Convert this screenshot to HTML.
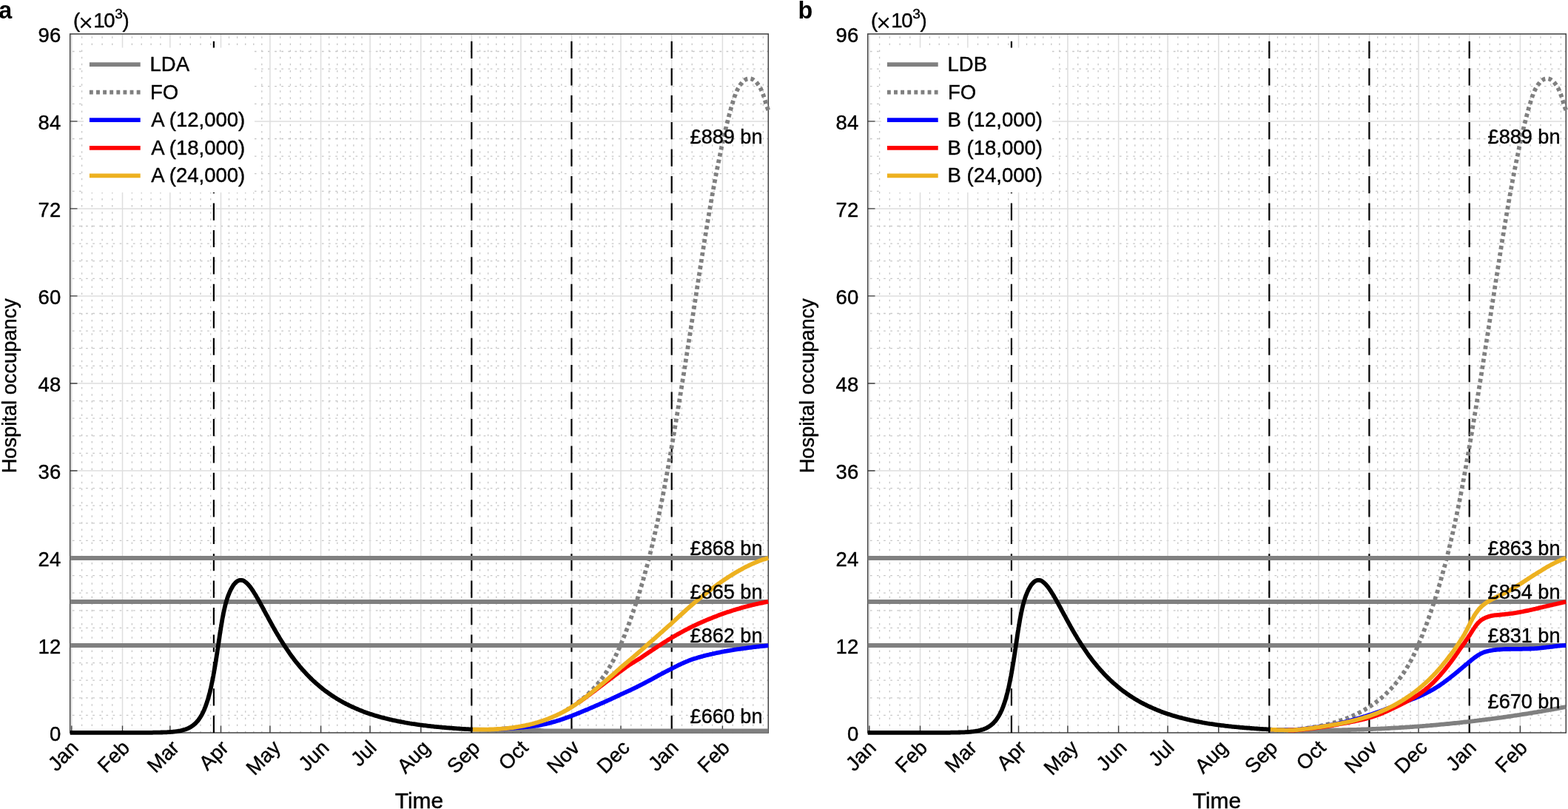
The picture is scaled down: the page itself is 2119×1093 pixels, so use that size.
<!DOCTYPE html>
<html lang="en"><head><meta charset="utf-8"><title>Hospital occupancy scenarios</title>
<style>html,body{margin:0;padding:0;background:#fff}body{width:2119px;height:1093px;overflow:hidden}svg{display:block}text{font-family:"Liberation Sans",sans-serif;font-size:27.5px;fill:#000;stroke:#000;stroke-width:0.4px;stroke-linejoin:round}.pl{stroke:none}</style></head><body>
<svg width="2119" height="1093" viewBox="0 0 2119 1093">
<rect width="2119" height="1093" fill="#fff"/>
<g transform="translate(0,0)">
<path d="M110.6,990.2 V45.9 M124.3,990.2 V45.9 M138.1,990.2 V45.9 M151.8,990.2 V45.9 M178.4,990.2 V45.9 M191.2,990.2 V45.9 M204.1,990.2 V45.9 M216.9,990.2 V45.9 M243.5,990.2 V45.9 M257.3,990.2 V45.9 M271,990.2 V45.9 M284.7,990.2 V45.9 M309.5,990.2 V45.9 M320.6,990.2 V45.9 M331.7,990.2 V45.9 M342.8,990.2 V45.9 M353.8,990.2 V45.9 M378.7,990.2 V45.9 M392.4,990.2 V45.9 M406.1,990.2 V45.9 M419.9,990.2 V45.9 M444.7,990.2 V45.9 M455.8,990.2 V45.9 M466.8,990.2 V45.9 M477.9,990.2 V45.9 M489,990.2 V45.9 M513.8,990.2 V45.9 M527.5,990.2 V45.9 M541.3,990.2 V45.9 M555,990.2 V45.9 M582.5,990.2 V45.9 M596.2,990.2 V45.9 M610,990.2 V45.9 M623.7,990.2 V45.9 M648.5,990.2 V45.9 M659.6,990.2 V45.9 M670.7,990.2 V45.9 M681.7,990.2 V45.9 M692.8,990.2 V45.9 M717.6,990.2 V45.9 M731.4,990.2 V45.9 M745.1,990.2 V45.9 M758.8,990.2 V45.9 M783.7,990.2 V45.9 M794.7,990.2 V45.9 M805.8,990.2 V45.9 M816.9,990.2 V45.9 M828,990.2 V45.9 M852.8,990.2 V45.9 M866.5,990.2 V45.9 M880.3,990.2 V45.9 M894,990.2 V45.9 M921.5,990.2 V45.9 M935.2,990.2 V45.9 M948.9,990.2 V45.9 M962.7,990.2 V45.9 M990.2,990.2 V45.9 M1003.9,990.2 V45.9 M1017.7,990.2 V45.9 M1031.4,990.2 V45.9" stroke="#c6c6c6" stroke-width="1.3" stroke-dasharray="2.5 6.61" fill="none"/>
<path d="M1038.9,966.4 H94.7 M1038.9,942.8 H94.7 M1038.9,919.2 H94.7 M1038.9,895.6 H94.7 M1038.9,848.4 H94.7 M1038.9,824.8 H94.7 M1038.9,801.2 H94.7 M1038.9,777.6 H94.7 M1038.9,730.4 H94.7 M1038.9,706.8 H94.7 M1038.9,683.2 H94.7 M1038.9,659.6 H94.7 M1038.9,612.4 H94.7 M1038.9,588.8 H94.7 M1038.9,565.2 H94.7 M1038.9,541.6 H94.7 M1038.9,494.3 H94.7 M1038.9,470.7 H94.7 M1038.9,447.1 H94.7 M1038.9,423.5 H94.7 M1038.9,376.3 H94.7 M1038.9,352.7 H94.7 M1038.9,329.1 H94.7 M1038.9,305.5 H94.7 M1038.9,258.3 H94.7 M1038.9,234.7 H94.7 M1038.9,211.1 H94.7 M1038.9,187.5 H94.7 M1038.9,140.3 H94.7 M1038.9,116.7 H94.7 M1038.9,93.1 H94.7 M1038.9,69.5 H94.7" stroke="#c6c6c6" stroke-width="1.3" stroke-dasharray="2.7 6.41" fill="none"/>
<path d="M96.8,990 V45.9 M165.5,990 V45.9 M229.8,990 V45.9 M298.5,990 V45.9 M364.9,990 V45.9 M433.6,990 V45.9 M500.1,990 V45.9 M568.8,990 V45.9 M637.4,990 V45.9 M703.9,990 V45.9 M772.6,990 V45.9 M839,990 V45.9 M907.7,990 V45.9 M976.4,990 V45.9 M94.7,872 H1038.3 M94.7,754 H1038.3 M94.7,636 H1038.3 M94.7,518 H1038.3 M94.7,399.9 H1038.3 M94.7,281.9 H1038.3 M94.7,163.9 H1038.3" stroke="#dedede" stroke-width="1.5" fill="none"/>
<rect x="94.7" y="45.9" width="943.6" height="944.1" fill="none" stroke="#404040" stroke-width="1.5"/>
<path d="M96.8,990 v-9.6 M165.5,990 v-9.6 M229.8,990 v-9.6 M298.5,990 v-9.6 M364.9,990 v-9.6 M433.6,990 v-9.6 M500.1,990 v-9.6 M568.8,990 v-9.6 M637.4,990 v-9.6 M703.9,990 v-9.6 M772.6,990 v-9.6 M839,990 v-9.6 M907.7,990 v-9.6 M976.4,990 v-9.6 M94.7,872 h9.8 M94.7,754 h9.8 M94.7,636 h9.8 M94.7,518 h9.8 M94.7,399.9 h9.8 M94.7,281.9 h9.8 M94.7,163.9 h9.8" stroke="#404040" stroke-width="1.4" fill="none"/>
<path d="M288.9,990 V46.9 M637.3,990 V46.9 M772.4,990 V46.9 M907.7,990 V46.9" stroke="#000" stroke-width="2.2" stroke-dasharray="23.2 13.24" fill="none"/>
<path d="M94.7,872 H1038.3 M94.7,813 H1038.3 M94.7,754 H1038.3" stroke="#808080" stroke-width="5.8" fill="none"/>
<path d="M638.7,985.7 660,986 690,986.2 727,986.3 731,986.9 735,987.4 1038.3,987.4" stroke="#808080" stroke-width="5.8" fill="none" stroke-linejoin="round"/>
<path d="M1038.3,148.7 1037.9,147.8 1037.5,146.9 1037.1,145.9 1036.8,145 1036.5,144 1036.1,143.1 1035.8,142.1 1035.5,141.2 1035.2,140.2 1034.9,139.3 1034.6,138.3 1034.4,137.4 1034.1,136.4 1033.8,135.5 1033.5,134.5 1033.2,133.5 1032.9,132.6 1032.6,131.6 1032.3,130.7 1032,129.7 1031.7,128.8 1031.3,127.8 1031,126.9 1030.6,126 1030.3,125 1029.9,124.1 1029.5,123.2 1029.1,122.3 1028.7,121.3 1028.3,120.4 1027.8,119.6 1027.4,118.7 1026.9,117.8 1026.4,116.9 1025.8,116.1 1025.3,115.2 1024.7,114.4 1024.2,113.6 1023.5,112.8 1022.9,112 1022.2,111.3 1021.6,110.6 1020.8,109.9 1020.1,109.2 1019.3,108.6 1018.5,108 1017.6,107.5 1016.7,107.1 1015.8,106.7 1014.8,106.4 1013.9,106.2 1012.9,106.2 1011.9,106.2 1010.9,106.4 1009.9,106.6 1008.9,106.9 1008,107.3 1007.2,107.8 1006.3,108.4 1005.5,109 1004.8,109.6 1004,110.3 1003.3,111 1002.7,111.8 1002,112.5 1001.4,113.3 1000.8,114.1 1000.2,114.9 999.7,115.8 999.1,116.6 998.6,117.5 998.1,118.3 997.6,119.2 997.1,120.1 996.7,121 996.2,121.9 995.8,122.8 995.4,123.7 995,124.6 994.6,125.5 994.2,126.4 993.9,127.4 993.5,128.3 993.2,129.2 992.8,130.2 992.5,131.1 992.2,132.1 991.9,133 991.6,134 991.3,134.9 991,135.9 990.7,136.8 990.4,137.8 990.1,138.8 989.8,139.7 989.5,140.7 989.2,141.6 989,142.6 988.7,143.6 988.4,144.5 988.1,145.5 987.9,146.4 987.6,147.4 987.3,148.4 987,149.3 986.8,150.3 986.5,151.3 986.3,152.2 986,153.2 985.7,154.2 985.5,155.1 985.2,156.1 985,157.1 984.7,158 984.5,159 984.2,160 984,160.9 983.7,161.9 983.5,162.9 983.2,163.8 983,164.8 982.7,165.8 982.5,166.7 982.2,167.7 982,168.7 981.8,169.7 981.5,170.6 981.3,171.6 981.1,172.6 980.8,173.6 980.6,174.5 980.4,175.5 980.1,176.5 979.9,177.4 979.7,178.4 979.5,179.4 979.2,180.4 979,181.3 978.8,182.3 978.6,183.3 978.3,184.3 978.1,185.2 977.9,186.2 977.7,187.2 977.5,188.2 977.3,189.2 977,190.1 976.8,191.1 976.6,192.1 976.4,193.1 976.2,194 976,195 975.8,196 975.6,197 975.3,197.9 975.1,198.9 974.9,199.9 974.7,200.9 974.5,201.9 974.3,202.8 974.1,203.8 973.9,204.8 973.7,205.8 973.5,206.8 973.3,207.7 973.1,208.7 972.9,209.7 972.7,210.7 972.5,211.7 972.3,212.6 972.1,213.6 971.9,214.6 971.7,215.6 971.5,216.6 971.3,217.5 971.1,218.5 970.9,219.5 970.7,220.5 970.5,221.5 970.3,222.4 970.1,223.4 969.9,224.4 969.7,225.4 969.5,226.4 969.3,227.3 969.1,228.3 968.9,229.3 968.7,230.3 968.6,231.3 968.4,232.3 968.2,233.2 968,234.2 967.8,235.2 967.6,236.2 967.4,237.2 967.2,238.1 967,239.1 966.9,240.1 966.7,241.1 966.5,242.1 966.3,243.1 966.1,244 965.9,245 965.7,246 965.6,247 965.4,248 965.2,249 965,249.9 964.8,250.9 964.6,251.9 964.5,252.9 964.3,253.9 964.1,254.9 963.9,255.8 963.7,256.8 963.6,257.8 963.4,258.8 963.2,259.8 963,260.8 962.9,261.7 962.7,262.7 962.5,263.7 962.3,264.7 962.2,265.7 962,266.7 961.8,267.7 961.6,268.6 961.5,269.6 961.3,270.6 961.1,271.6 960.9,272.6 960.8,273.6 960.6,274.6 960.4,275.5 960.2,276.5 960.1,277.5 959.9,278.5 959.7,279.5 959.6,280.5 959.4,281.4 959.2,282.4 959,283.4 958.9,284.4 958.7,285.4 958.5,286.4 958.4,287.4 958.2,288.4 958,289.3 957.9,290.3 957.7,291.3 957.5,292.3 957.4,293.3 957.2,294.3 957,295.3 956.9,296.2 956.7,297.2 956.5,298.2 956.4,299.2 956.2,300.2 956,301.2 955.9,302.2 955.7,303.1 955.6,304.1 955.4,305.1 955.2,306.1 955.1,307.1 954.9,308.1 954.7,309.1 954.6,310.1 954.4,311 954.2,312 954.1,313 953.9,314 953.8,315 953.6,316 953.4,317 953.3,318 953.1,318.9 953,319.9 952.8,320.9 952.6,321.9 952.5,322.9 952.3,323.9 952.2,324.9 952,325.9 951.8,326.8 951.7,327.8 951.5,328.8 951.4,329.8 951.2,330.8 951.1,331.8 950.9,332.8 950.7,333.8 950.6,334.7 950.4,335.7 950.3,336.7 950.1,337.7 950,338.7 949.8,339.7 949.6,340.7 949.5,341.7 949.3,342.6 949.2,343.6 949,344.6 948.9,345.6 948.7,346.6 948.6,347.6 948.4,348.6 948.2,349.6 948.1,350.5 947.9,351.5 947.8,352.5 947.6,353.5 947.5,354.5 947.3,355.5 947.2,356.5 947,357.5 946.9,358.5 946.7,359.4 946.5,360.4 946.4,361.4 946.2,362.4 946.1,363.4 945.9,364.4 945.8,365.4 945.6,366.4 945.5,367.3 945.3,368.3 945.2,369.3 945,370.3 944.8,371.3 944.7,372.3 944.5,373.3 944.4,374.3 944.2,375.3 944.1,376.2 943.9,377.2 943.8,378.2 943.6,379.2 943.5,380.2 943.3,381.2 943.2,382.2 943,383.2 942.9,384.2 942.7,385.1 942.5,386.1 942.4,387.1 942.2,388.1 942.1,389.1 941.9,390.1 941.8,391.1 941.6,392.1 941.5,393 941.3,394 941.2,395 941,396 940.9,397 940.7,398 940.6,399 940.4,400 940.2,401 940.1,401.9 939.9,402.9 939.8,403.9 939.6,404.9 939.5,405.9 939.3,406.9 939.2,407.9 939,408.9 938.9,409.8 938.7,410.8 938.6,411.8 938.4,412.8 938.3,413.8 938.1,414.8 937.9,415.8 937.8,416.8 937.6,417.8 937.5,418.7 937.3,419.7 937.2,420.7 937,421.7 936.9,422.7 936.7,423.7 936.6,424.7 936.4,425.7 936.3,426.7 936.1,427.6 936,428.6 935.8,429.6 935.6,430.6 935.5,431.6 935.3,432.6 935.2,433.6 935,434.6 934.9,435.5 934.7,436.5 934.6,437.5 934.4,438.5 934.3,439.5 934.1,440.5 934,441.5 933.8,442.5 933.6,443.5 933.5,444.4 933.3,445.4 933.2,446.4 933,447.4 932.9,448.4 932.7,449.4 932.6,450.4 932.4,451.4 932.3,452.3 932.1,453.3 932,454.3 931.8,455.3 931.6,456.3 931.5,457.3 931.3,458.3 931.2,459.3 931,460.3 930.9,461.2 930.7,462.2 930.6,463.2 930.4,464.2 930.3,465.2 930.1,466.2 929.9,467.2 929.8,468.2 929.6,469.1 929.5,470.1 929.3,471.1 929.2,472.1 929,473.1 928.9,474.1 928.7,475.1 928.5,476.1 928.4,477.1 928.2,478 928.1,479 927.9,480 927.8,481 927.6,482 927.5,483 927.3,484 927.1,485 927,485.9 926.8,486.9 926.7,487.9 926.5,488.9 926.4,489.9 926.2,490.9 926,491.9 925.9,492.9 925.7,493.8 925.6,494.8 925.4,495.8 925.3,496.8 925.1,497.8 925,498.8 924.8,499.8 924.6,500.8 924.5,501.8 924.3,502.7 924.2,503.7 924,504.7 923.9,505.7 923.7,506.7 923.5,507.7 923.4,508.7 923.2,509.7 923.1,510.6 922.9,511.6 922.7,512.6 922.6,513.6 922.4,514.6 922.3,515.6 922.1,516.6 922,517.6 921.8,518.5 921.6,519.5 921.5,520.5 921.3,521.5 921.2,522.5 921,523.5 920.8,524.5 920.7,525.5 920.5,526.4 920.4,527.4 920.2,528.4 920,529.4 919.9,530.4 919.7,531.4 919.6,532.4 919.4,533.4 919.2,534.3 919.1,535.3 918.9,536.3 918.8,537.3 918.6,538.3 918.4,539.3 918.3,540.3 918.1,541.3 918,542.2 917.8,543.2 917.6,544.2 917.5,545.2 917.3,546.2 917.1,547.2 917,548.2 916.8,549.1 916.7,550.1 916.5,551.1 916.3,552.1 916.2,553.1 916,554.1 915.9,555.1 915.7,556.1 915.5,557 915.4,558 915.2,559 915,560 914.9,561 914.7,562 914.5,563 914.4,564 914.2,564.9 914.1,565.9 913.9,566.9 913.7,567.9 913.6,568.9 913.4,569.9 913.2,570.9 913.1,571.8 912.9,572.8 912.7,573.8 912.6,574.8 912.4,575.8 912.2,576.8 912.1,577.8 911.9,578.7 911.7,579.7 911.6,580.7 911.4,581.7 911.2,582.7 911.1,583.7 910.9,584.7 910.8,585.7 910.6,586.6 910.4,587.6 910.2,588.6 910.1,589.6 909.9,590.6 909.7,591.6 909.6,592.6 909.4,593.5 909.2,594.5 909.1,595.5 908.9,596.5 908.7,597.5 908.6,598.5 908.4,599.5 908.2,600.4 908.1,601.4 907.9,602.4 907.7,603.4 907.6,604.4 907.4,605.4 907.2,606.4 907,607.3 906.9,608.3 906.7,609.3 906.5,610.3 906.4,611.3 906.2,612.3 906,613.3 905.9,614.2 905.7,615.2 905.5,616.2 905.3,617.2 905.2,618.2 905,619.2 904.8,620.2 904.6,621.1 904.5,622.1 904.3,623.1 904.1,624.1 904,625.1 903.8,626.1 903.6,627.1 903.4,628 903.3,629 903.1,630 902.9,631 902.7,632 902.6,633 902.4,633.9 902.2,634.9 902,635.9 901.8,636.9 901.7,637.9 901.5,638.9 901.3,639.9 901.1,640.8 901,641.8 900.8,642.8 900.6,643.8 900.4,644.8 900.2,645.8 900.1,646.7 899.9,647.7 899.7,648.7 899.5,649.7 899.3,650.7 899.2,651.7 899,652.6 898.8,653.6 898.6,654.6 898.4,655.6 898.2,656.6 898,657.6 897.9,658.5 897.7,659.5 897.5,660.5 897.3,661.5 897.1,662.5 896.9,663.5 896.7,664.4 896.6,665.4 896.4,666.4 896.2,667.4 896,668.4 895.8,669.3 895.6,670.3 895.4,671.3 895.2,672.3 895,673.3 894.8,674.3 894.7,675.2 894.5,676.2 894.3,677.2 894.1,678.2 893.9,679.2 893.7,680.1 893.5,681.1 893.3,682.1 893.1,683.1 892.9,684.1 892.7,685 892.5,686 892.3,687 892.1,688 891.9,689 891.7,689.9 891.5,690.9 891.3,691.9 891.1,692.9 890.9,693.9 890.7,694.8 890.5,695.8 890.3,696.8 890.1,697.8 889.9,698.8 889.7,699.7 889.5,700.7 889.3,701.7 889,702.7 888.8,703.7 888.6,704.6 888.4,705.6 888.2,706.6 888,707.6 887.8,708.5 887.6,709.5 887.4,710.5 887.1,711.5 886.9,712.5 886.7,713.4 886.5,714.4 886.3,715.4 886.1,716.4 885.8,717.3 885.6,718.3 885.4,719.3 885.2,720.3 885,721.2 884.7,722.2 884.5,723.2 884.3,724.2 884.1,725.1 883.9,726.1 883.6,727.1 883.4,728.1 883.2,729 883,730 882.7,731 882.5,732 882.3,732.9 882,733.9 881.8,734.9 881.6,735.9 881.3,736.8 881.1,737.8 880.9,738.8 880.6,739.7 880.4,740.7 880.2,741.7 879.9,742.7 879.7,743.6 879.5,744.6 879.2,745.6 879,746.5 878.7,747.5 878.5,748.5 878.3,749.5 878,750.4 877.8,751.4 877.5,752.4 877.3,753.3 877,754.3 876.8,755.3 876.5,756.2 876.3,757.2 876,758.2 875.8,759.1 875.5,760.1 875.3,761.1 875,762.1 874.8,763 874.5,764 874.3,765 874,765.9 873.7,766.9 873.5,767.9 873.2,768.8 873,769.8 872.7,770.7 872.4,771.7 872.2,772.7 871.9,773.6 871.6,774.6 871.4,775.6 871.1,776.5 870.8,777.5 870.6,778.5 870.3,779.4 870,780.4 869.8,781.3 869.5,782.3 869.2,783.3 868.9,784.2 868.7,785.2 868.4,786.2 868.1,787.1 867.8,788.1 867.5,789 867.3,790 867,791 866.7,791.9 866.4,792.9 866.1,793.8 865.8,794.8 865.6,795.8 865.3,796.7 865,797.7 864.7,798.6 864.4,799.6 864.1,800.5 863.8,801.5 863.5,802.4 863.2,803.4 862.9,804.4 862.6,805.3 862.3,806.3 862,807.2 861.7,808.2 861.4,809.1 861.1,810.1 860.8,811 860.5,812 860.2,812.9 859.9,813.9 859.6,814.8 859.3,815.8 859,816.7 858.6,817.7 858.3,818.6 858,819.6 857.7,820.5 857.4,821.5 857.1,822.4 856.7,823.4 856.4,824.3 856.1,825.3 855.8,826.2 855.5,827.2 855.1,828.1 854.8,829.1 854.5,830 854.1,831 853.8,831.9 853.5,832.8 853.2,833.8 852.8,834.7 852.5,835.7 852.1,836.6 851.8,837.6 851.5,838.5 851.1,839.4 850.8,840.4 850.4,841.3 850.1,842.3 849.8,843.2 849.4,844.1 849.1,845.1 848.7,846 848.4,846.9 848,847.9 847.7,848.8 847.3,849.8 847,850.7 846.6,851.6 846.2,852.6 845.9,853.5 845.5,854.4 845.2,855.4 844.8,856.3 844.4,857.2 844.1,858.2 843.7,859.1 843.3,860 843,860.9 842.6,861.9 842.2,862.8 841.8,863.7 841.5,864.7 841.1,865.6 840.7,866.5 840.3,867.4 840,868.4 839.6,869.3 839.2,870.2 838.8,871.1 838.4,872 838,873 837.6,873.9 837.2,874.8 836.8,875.7 836.4,876.6 836,877.5 835.6,878.4 835.2,879.4 834.7,880.3 834.3,881.2 833.9,882.1 833.5,883 833,883.9 832.6,884.8 832.2,885.7 831.7,886.6 831.3,887.5 830.8,888.4 830.4,889.3 829.9,890.2 829.5,891.1 829,891.9 828.5,892.8 828.1,893.7 827.6,894.6 827.1,895.5 826.6,896.3 826.1,897.2 825.7,898.1 825.2,898.9 824.7,899.8 824.1,900.7 823.6,901.5 823.1,902.4 822.6,903.2 822.1,904.1 821.5,904.9 821,905.8 820.5,906.6 819.9,907.5 819.4,908.3 818.8,909.1 818.3,910 817.7,910.8 817.1,911.6 816.6,912.4 816,913.3 815.4,914.1 814.8,914.9 814.2,915.7 813.6,916.5 813,917.3 812.4,918.1 811.8,918.9 811.2,919.7 810.6,920.4 809.9,921.2 809.3,922 808.7,922.8 808,923.5 807.4,924.3 806.7,925.1 806.1,925.8 805.4,926.6 804.8,927.3 804.1,928.1 803.4,928.8 802.7,929.5 802.1,930.3 801.4,931 800.7,931.7 800,932.5 799.3,933.2 798.6,933.9 797.9,934.6 797.2,935.3 796.5,936 795.7,936.7 795,937.4 794.3,938.1 793.6,938.7 792.8,939.4 792.1,940.1 791.3,940.8 790.6,941.4 789.8,942.1 789.1,942.7 788.3,943.4 787.5,944 786.8,944.7 786,945.3 785.2,945.9 784.4,946.5 783.6,947.1 782.8,947.8 782.1,948.4 781.3,949 780.4,949.6 779.6,950.2 778.8,950.7 778,951.3 777.2,951.9 776.4,952.5 775.5,953 774.7,953.6 773.9,954.1 773,954.7 772.2,955.2 771.4,955.8 770.5,956.3 769.7,956.8 768.8,957.3 767.9,957.8 767.1,958.4 766.2,958.9" stroke="#808080" stroke-width="5.8" fill="none" stroke-linejoin="round" stroke-dasharray="4.9 4.21"/>
<path d="M673.2,985.1 674.7,985 676.2,984.9 677.7,984.8 679.2,984.7 680.7,984.6 682.2,984.5 683.7,984.4 685.2,984.3 686.7,984.1 688.2,984 689.7,983.9 691.2,983.8 692.7,983.7 694.2,983.6 695.7,983.5 697.2,983.3 698.7,983.2 700.2,983.1 701.7,983 703.2,982.9 704.7,982.7 706.2,982.6 707.7,982.5 709.2,982.3 710.7,982.2 712.2,982 713.6,981.9 715.1,981.7 716.6,981.5 718.1,981.4 719.6,981.2 721.1,981 722.6,980.8 724.1,980.5 725.6,980.3 727.1,980.1 728.5,979.8 730,979.6 731.5,979.3 733,979 734.4,978.7 735.9,978.4 737.4,978.1 738.8,977.8 740.3,977.4 741.8,977.1 743.2,976.7 744.7,976.3 746.1,975.9 747.6,975.5 749,975.1 750.5,974.7 751.9,974.3 753.3,973.8 754.8,973.4 756.2,972.9 757.6,972.4 759.1,972 760.5,971.5 761.9,971 763.3,970.5 764.7,970 766.2,969.5 767.6,969 769,968.5 770.4,967.9 771.8,967.4 773.2,966.9 774.6,966.3 776,965.8 777.4,965.2 778.8,964.7 780.2,964.1 781.6,963.6 783,963 784.4,962.4 785.8,961.8 787.1,961.3 788.5,960.7 789.9,960.1 791.3,959.5 792.7,958.9 794.1,958.4 795.5,957.8 796.8,957.2 798.2,956.6 799.6,956 801,955.4 802.4,954.8 803.7,954.2 805.1,953.6 806.5,953 807.9,952.4 809.3,951.8 810.6,951.2 812,950.6 813.4,950 814.8,949.4 816.1,948.8 817.5,948.2 818.9,947.6 820.2,946.9 821.6,946.3 823,945.7 824.4,945.1 825.7,944.5 827.1,943.8 828.4,943.2 829.8,942.6 831.2,941.9 832.5,941.3 833.9,940.6 835.3,940 836.6,939.4 838,938.7 839.3,938 840.7,937.4 842.1,936.8 843.4,936.2 844.8,935.6 846.2,935 847.5,934.3 848.9,933.7 850.3,933.1 851.6,932.5 853,931.8 854.3,931.2 855.7,930.5 857.1,929.9 858.4,929.2 859.8,928.6 861.1,927.9 862.5,927.2 863.8,926.5 865.1,925.9 866.5,925.2 867.8,924.5 869.1,923.8 870.5,923.1 871.8,922.4 873.1,921.7 874.5,921 875.8,920.3 877.1,919.6 878.5,918.9 879.8,918.2 881.1,917.5 882.4,916.8 883.7,916.1 885.1,915.3 886.4,914.6 887.7,913.9 889,913.1 890.3,912.4 891.6,911.7 893,911 894.3,910.3 895.6,909.6 896.9,908.9 898.3,908.2 899.6,907.5 900.9,906.8 902.3,906.1 903.6,905.4 905,904.8 906.3,904.1 907.7,903.5 909,902.8 910.3,902 911.7,901.3 913,900.7 914.3,900 915.7,899.3 917,898.6 918.4,898 919.8,897.4 921.1,896.7 922.5,896.1 923.9,895.5 925.2,894.9 926.6,894.3 928,893.7 929.4,893.2 930.8,892.6 932.2,892.1 933.6,891.6 935,891.1 936.5,890.6 937.9,890.1 939.3,889.6 940.7,889.2 942.2,888.7 943.6,888.3 945.1,887.9 946.5,887.5 947.9,887.1 949.4,886.7 950.8,886.3 952.3,885.9 953.8,885.5 955.2,885.2 956.7,884.8 958.1,884.5 959.6,884.1 961.1,883.8 962.5,883.5 964,883.1 965.5,882.8 966.9,882.5 968.4,882.2 969.9,881.9 971.4,881.6 972.8,881.3 974.3,881 975.8,880.7 977.3,880.5 978.7,880.2 980.2,879.9 981.7,879.7 983.2,879.4 984.7,879.1 986.1,878.9 987.6,878.6 989.1,878.4 990.6,878.1 992.1,877.9 993.6,877.7 995,877.5 996.5,877.2 998,877 999.5,876.8 1001,876.6 1002.5,876.4 1004,876.2 1005.5,876 1006.9,875.8 1008.4,875.6 1009.9,875.4 1011.4,875.2 1012.9,875 1014.4,874.8 1015.9,874.6 1017.4,874.4 1018.9,874.2 1020.4,874 1021.9,873.9 1023.3,873.7 1024.8,873.6 1026.3,873.4 1027.8,873.2 1029.3,873.1 1030.8,872.9 1032.3,872.8 1033.8,872.6 1035.3,872.5 1036.8,872.3 1038.3,872.2" stroke="#0000ff" stroke-width="5.8" fill="none" stroke-linejoin="round"/>
<path d="M781.2,949.5 782.4,948.7 783.7,947.8 784.9,947 786.1,946.1 787.4,945.2 788.6,944.4 789.8,943.5 791,942.6 792.2,941.7 793.4,940.8 794.6,939.9 795.9,939 797.1,938.1 798.3,937.2 799.5,936.3 800.7,935.4 801.9,934.5 803.1,933.6 804.3,932.7 805.5,931.8 806.7,930.9 807.8,930 809,929.1 810.2,928.2 811.4,927.3 812.6,926.4 813.8,925.5 815,924.5 816.2,923.6 817.4,922.7 818.6,921.8 819.8,920.9 821,920 822.2,919.1 823.4,918.2 824.6,917.3 825.8,916.4 827,915.5 828.2,914.6 829.4,913.7 830.6,912.8 831.8,911.9 833,911 834.2,910.1 835.4,909.2 836.6,908.3 837.8,907.4 839.1,906.5 840.3,905.7 841.5,904.8 842.7,903.9 843.9,903 845.1,902.1 846.3,901.2 847.5,900.4 848.8,899.5 850,898.6 851.3,897.8 852.5,897 853.8,896.2 855.1,895.4 856.4,894.7 857.7,893.9 858.9,893.1 860.2,892.3 861.5,891.6 862.8,890.8 864.1,890 865.4,889.2 866.6,888.4 867.8,887.5 869.1,886.7 870.3,885.8 871.6,885 872.8,884.1 874,883.3 875.3,882.5 876.5,881.6 877.8,880.8 879,880 880.3,879.1 881.5,878.3 882.8,877.5 884.1,876.7 885.3,875.8 886.6,875 887.8,874.2 889.1,873.4 890.4,872.6 891.6,871.8 892.9,871 894.1,870.1 895.4,869.3 896.7,868.5 897.9,867.7 899.2,866.9 900.5,866.1 901.7,865.3 903,864.5 904.3,863.7 905.6,862.9 906.9,862.1 908.1,861.4 909.4,860.6 910.7,859.9 912,859.1 913.3,858.4 914.6,857.6 915.9,856.9 917.3,856.2 918.6,855.4 919.9,854.7 921.2,854 922.5,853.3 923.8,852.6 925.2,851.8 926.5,851.1 927.8,850.4 929.2,849.8 930.5,849.1 931.8,848.4 933.2,847.7 934.5,847 935.9,846.4 937.2,845.7 938.6,845.1 939.9,844.4 941.3,843.8 942.6,843.1 944,842.5 945.4,841.9 946.7,841.3 948.1,840.7 949.5,840.1 950.9,839.5 952.2,838.9 953.6,838.3 955,837.7 956.4,837.1 957.8,836.5 959.2,836 960.6,835.4 962,834.9 963.3,834.3 964.7,833.8 966.1,833.2 967.6,832.7 969,832.2 970.4,831.6 971.8,831.1 973.2,830.6 974.6,830.1 976,829.6 977.4,829.1 978.8,828.6 980.3,828.1 981.7,827.6 983.1,827.1 984.5,826.6 985.9,826.2 987.4,825.7 988.8,825.2 990.2,824.8 991.7,824.3 993.1,823.9 994.5,823.4 996,823 997.4,822.6 998.9,822.2 1000.3,821.7 1001.7,821.3 1003.2,820.9 1004.6,820.5 1006.1,820.1 1007.5,819.7 1009,819.4 1010.4,819 1011.9,818.6 1013.3,818.2 1014.8,817.9 1016.3,817.5 1017.7,817.2 1019.2,816.8 1020.6,816.5 1022.1,816.2 1023.6,815.8 1025,815.5 1026.5,815.2 1028,814.9 1029.5,814.6 1030.9,814.3 1032.4,814 1033.9,813.7 1035.3,813.4 1036.8,813.2 1038.3,812.9" stroke="#ff0000" stroke-width="5.8" fill="none" stroke-linejoin="round"/>
<path d="M638.7,985.7 640.2,985.7 641.7,985.7 643.2,985.7 644.7,985.7 646.2,985.7 647.7,985.7 649.2,985.7 650.7,985.7 652.2,985.7 653.7,985.7 655.2,985.7 656.7,985.6 658.2,985.6 659.7,985.6 661.2,985.5 662.7,985.5 664.2,985.4 665.7,985.4 667.2,985.3 668.7,985.2 670.2,985.1 671.7,985 673.2,985 674.7,984.9 676.2,984.8 677.7,984.6 679.2,984.5 680.7,984.4 682.2,984.3 683.7,984.1 685.2,984 686.7,983.8 688.2,983.6 689.7,983.4 691.2,983.3 692.7,983.1 694.2,982.9 695.6,982.7 697.1,982.4 698.6,982.2 700.1,982 701.6,981.7 703.1,981.5 704.5,981.2 706,980.9 707.5,980.6 709,980.3 710.4,980 711.9,979.7 713.4,979.4 714.8,979.1 716.3,978.7 717.8,978.3 719.2,978 720.7,977.6 722.1,977.2 723.6,976.8 725,976.4 726.5,976 727.9,975.5 729.3,975.1 730.8,974.6 732.2,974.2 733.6,973.7 735,973.2 736.5,972.7 737.9,972.2 739.3,971.7 740.7,971.2 742.1,970.6 743.5,970.1 744.9,969.5 746.3,968.9 747.6,968.3 749,967.7 750.4,967.1 751.8,966.5 753.1,965.9 754.5,965.2 755.8,964.6 757.2,963.9 758.5,963.2 759.8,962.5 761.2,961.8 762.5,961.1 763.8,960.4 765.1,959.7 766.4,958.9 767.7,958.2 769,957.4 770.3,956.6 771.6,955.8 772.9,955 774.1,954.2 775.4,953.4 776.7,952.6 777.9,951.8 779.1,950.9 780.4,950.1 781.6,949.2 782.9,948.4 784.1,947.5 785.3,946.6 786.5,945.7 787.7,944.8 788.9,943.9 790.1,943 791.3,942.1 792.5,941.2 793.7,940.3 794.9,939.3 796.1,938.4 797.2,937.5 798.4,936.6 799.6,935.6 800.8,934.7 801.9,933.7 803.1,932.8 804.3,931.8 805.4,930.9 806.6,929.9 807.7,929 808.9,928 810,927 811.2,926.1 812.3,925.1 813.5,924.1 814.6,923.2 815.8,922.2 816.9,921.2 818.1,920.2 819.2,919.3 820.3,918.3 821.5,917.3 822.6,916.3 823.7,915.3 824.9,914.3 826,913.4 827.1,912.4 828.3,911.4 829.4,910.4 830.5,909.4 831.7,908.4 832.8,907.4 833.9,906.4 835,905.4 836.2,904.4 837.3,903.4 838.4,902.4 839.5,901.4 840.7,900.5 841.8,899.5 843,898.5 844.1,897.6 845.3,896.6 846.4,895.6 847.6,894.7 848.7,893.7 849.9,892.7 851,891.8 852.2,890.8 853.3,889.8 854.5,888.9 855.6,887.9 856.8,886.9 857.9,885.9 859.1,885 860.2,884 861.3,883 862.5,882 863.6,881.1 864.8,880.1 865.9,879.1 867,878.1 868.1,877.1 869.3,876.1 870.4,875.1 871.5,874.1 872.6,873.1 873.8,872.1 874.9,871.1 876,870.1 877.1,869.1 878.3,868.1 879.4,867.1 880.5,866.2 881.6,865.2 882.8,864.2 883.9,863.2 885,862.2 886.2,861.2 887.3,860.2 888.4,859.2 889.5,858.2 890.7,857.2 891.8,856.2 892.9,855.2 894,854.2 895.2,853.2 896.3,852.2 897.4,851.2 898.5,850.2 899.6,849.2 900.8,848.2 901.9,847.2 903,846.2 904.1,845.2 905.3,844.2 906.4,843.3 907.5,842.3 908.6,841.2 909.7,840.2 910.8,839.2 911.9,838.2 913,837.1 914.1,836.1 915.2,835.1 916.3,834.1 917.4,833.1 918.5,832 919.6,831 920.8,830 921.9,829 923,828 924.1,827 925.2,826 926.3,825 927.4,824 928.5,822.9 929.7,821.9 930.8,821 931.9,820 933.1,819 934.2,818 935.3,817 936.5,816.1 937.6,815.1 938.8,814.1 939.9,813.1 941.1,812.2 942.2,811.2 943.4,810.2 944.5,809.3 945.7,808.3 946.9,807.4 948,806.4 949.2,805.5 950.4,804.5 951.5,803.6 952.7,802.7 953.9,801.7 955.1,800.8 956.2,799.9 957.4,798.9 958.6,798 959.8,797.1 961,796.2 962.2,795.3 963.4,794.4 964.6,793.5 965.8,792.6 967,791.7 968.2,790.8 969.4,789.9 970.6,789 971.9,788.1 973.1,787.3 974.3,786.4 975.5,785.6 976.8,784.7 978,783.8 979.3,783 980.5,782.2 981.8,781.3 983,780.5 984.3,779.7 985.5,778.9 986.8,778.1 988.1,777.3 989.4,776.5 990.6,775.7 991.9,774.9 993.2,774.1 994.5,773.4 995.8,772.6 997.1,771.9 998.4,771.1 999.7,770.4 1001,769.7 1002.4,768.9 1003.7,768.2 1005,767.5 1006.3,766.8 1007.6,766.1 1009,765.4 1010.3,764.8 1011.7,764.1 1013,763.5 1014.4,762.8 1015.8,762.2 1017.1,761.6 1018.5,761 1019.9,760.4 1021.3,759.8 1022.7,759.2 1024.1,758.7 1025.5,758.1 1026.9,757.6 1028.3,757.1 1029.7,756.6 1031.1,756.1 1032.5,755.6 1034,755.2 1035.4,754.7 1036.9,754.3 1038.3,753.9" stroke="#edb120" stroke-width="5.8" fill="none" stroke-linejoin="round"/>
<path d="M94.7,989.9 96.2,989.9 97.7,989.9 99.2,989.9 100.7,989.9 102.2,989.9 103.7,989.9 105.2,989.9 106.7,989.9 108.2,989.9 109.7,989.9 111.2,989.9 112.7,989.9 114.2,989.9 115.7,989.9 117.2,989.9 118.7,989.9 120.2,989.9 121.7,989.9 123.2,989.9 124.7,989.9 126.2,989.9 127.7,989.9 129.2,989.9 130.7,989.9 132.2,989.9 133.7,989.9 135.2,989.9 136.7,989.9 138.2,989.9 139.7,989.9 141.2,989.9 142.7,989.9 144.2,989.9 145.7,989.9 147.2,989.9 148.7,989.9 150.2,989.9 151.7,989.9 153.2,989.9 154.7,989.9 156.2,989.9 157.7,989.9 159.2,989.9 160.7,989.9 162.2,989.9 163.7,989.9 165.2,989.9 166.7,989.9 168.2,989.9 169.7,989.9 171.2,989.9 172.7,989.9 174.2,989.9 175.7,989.9 177.2,989.9 178.7,989.9 180.2,989.9 181.7,989.9 183.2,989.9 184.7,989.9 186.2,989.9 187.7,989.9 189.2,989.9 190.7,989.9 192.2,989.8 193.7,989.8 195.2,989.8 196.7,989.8 198.2,989.8 199.7,989.8 201.2,989.8 202.7,989.8 204.2,989.8 205.7,989.8 207.2,989.7 208.7,989.7 210.2,989.7 211.7,989.7 213.2,989.6 214.7,989.6 216.2,989.6 217.7,989.5 219.2,989.5 220.7,989.4 222.2,989.4 223.7,989.3 225.2,989.3 226.7,989.2 228.2,989.1 229.7,989 231.2,988.9 232.7,988.8 234.2,988.6 235.7,988.5 237.2,988.3 238.7,988.1 240.2,987.9 241.6,987.6 243.1,987.4 244.6,987.1 246,986.7 247.5,986.3 248.9,985.9 250.4,985.5 251.8,985 253.2,984.4 254.5,983.8 255.9,983.1 257.2,982.4 258.5,981.7 259.7,980.8 261,979.9 262.1,979 263.3,978 264.4,977 265.4,975.9 266.4,974.8 267.4,973.7 268.3,972.5 269.2,971.3 270,970 270.8,968.8 271.6,967.5 272.4,966.2 273.1,964.9 273.8,963.5 274.4,962.2 275.1,960.8 275.7,959.5 276.3,958.1 276.8,956.7 277.4,955.3 277.9,953.9 278.4,952.5 278.9,951.1 279.4,949.7 279.9,948.2 280.3,946.8 280.8,945.4 281.2,943.9 281.6,942.5 282,941 282.4,939.6 282.8,938.1 283.2,936.7 283.6,935.2 283.9,933.8 284.3,932.3 284.6,930.9 285,929.4 285.3,927.9 285.6,926.5 285.9,925 286.2,923.5 286.5,922.1 286.8,920.6 287.1,919.1 287.4,917.7 287.7,916.2 288,914.7 288.3,913.2 288.5,911.8 288.8,910.3 289.1,908.8 289.3,907.3 289.6,905.8 289.8,904.4 290.1,902.9 290.3,901.4 290.6,899.9 290.8,898.4 291.1,897 291.3,895.5 291.6,894 291.8,892.5 292,891 292.2,889.6 292.5,888.1 292.7,886.6 292.9,885.1 293.2,883.6 293.4,882.1 293.6,880.7 293.8,879.2 294,877.7 294.3,876.2 294.5,874.7 294.7,873.2 294.9,871.8 295.2,870.3 295.4,868.8 295.6,867.3 295.8,865.8 296,864.3 296.3,862.9 296.5,861.4 296.7,859.9 296.9,858.4 297.1,856.9 297.4,855.4 297.6,854 297.8,852.5 298.1,851 298.3,849.5 298.5,848 298.8,846.5 299,845.1 299.3,843.6 299.5,842.1 299.8,840.6 300,839.1 300.3,837.7 300.5,836.2 300.8,834.7 301.1,833.2 301.4,831.8 301.7,830.3 301.9,828.8 302.2,827.4 302.6,825.9 302.9,824.4 303.2,823 303.5,821.5 303.9,820 304.2,818.6 304.6,817.1 305,815.7 305.4,814.2 305.8,812.8 306.2,811.3 306.7,809.9 307.1,808.5 307.6,807.1 308.1,805.6 308.6,804.2 309.2,802.8 309.7,801.4 310.3,800.1 310.9,798.7 311.6,797.3 312.2,796 313,794.7 313.7,793.4 314.5,792.1 315.3,790.8 316.2,789.6 317.1,788.5 318.2,787.4 319.3,786.3 320.4,785.4 321.7,784.7 323.1,784.1 324.6,783.8 326.1,783.8 327.6,784.1 329,784.6 330.3,785.3 331.5,786.2 332.7,787.1 333.8,788.1 334.9,789.2 335.9,790.3 336.8,791.4 337.8,792.6 338.7,793.8 339.6,795 340.4,796.2 341.3,797.5 342.1,798.7 342.9,800 343.7,801.3 344.5,802.5 345.3,803.8 346.1,805.1 346.8,806.4 347.6,807.7 348.3,809 349.1,810.3 349.8,811.6 350.5,812.9 351.3,814.2 352,815.5 352.7,816.9 353.4,818.2 354.2,819.5 354.9,820.8 355.6,822.1 356.3,823.4 357,824.8 357.7,826.1 358.4,827.4 359.1,828.7 359.8,830.1 360.6,831.4 361.3,832.7 362,834 362.7,835.3 363.4,836.7 364.1,838 364.9,839.3 365.6,840.6 366.3,841.9 367,843.2 367.8,844.5 368.5,845.9 369.2,847.2 370,848.5 370.7,849.8 371.4,851.1 372.2,852.4 372.9,853.7 373.7,855 374.5,856.3 375.2,857.6 376,858.8 376.8,860.1 377.5,861.4 378.3,862.7 379.1,864 379.9,865.3 380.7,866.5 381.5,867.8 382.3,869.1 383.1,870.3 383.9,871.6 384.7,872.8 385.5,874.1 386.4,875.3 387.2,876.6 388.1,877.8 388.9,879.1 389.8,880.3 390.6,881.5 391.5,882.8 392.3,884 393.2,885.2 394.1,886.4 395,887.6 395.9,888.8 396.8,890 397.7,891.2 398.6,892.4 399.5,893.6 400.5,894.8 401.4,895.9 402.4,897.1 403.3,898.3 404.3,899.4 405.2,900.6 406.2,901.7 407.2,902.9 408.2,904 409.2,905.1 410.2,906.2 411.2,907.3 412.2,908.4 413.2,909.5 414.2,910.6 415.3,911.7 416.3,912.8 417.4,913.9 418.4,914.9 419.5,916 420.6,917 421.6,918.1 422.7,919.1 423.8,920.1 424.9,921.2 426,922.2 427.2,923.2 428.3,924.2 429.4,925.1 430.6,926.1 431.7,927.1 432.9,928 434,929 435.2,929.9 436.4,930.9 437.5,931.8 438.7,932.7 439.9,933.6 441.1,934.5 442.4,935.4 443.6,936.2 444.8,937.1 446,938 447.3,938.8 448.5,939.7 449.8,940.5 451,941.3 452.3,942.1 453.6,942.9 454.8,943.7 456.1,944.5 457.4,945.2 458.7,946 460,946.8 461.3,947.5 462.6,948.2 463.9,949 465.2,949.7 466.6,950.4 467.9,951.1 469.2,951.7 470.6,952.4 471.9,953.1 473.3,953.7 474.6,954.4 476,955 477.4,955.6 478.7,956.2 480.1,956.8 481.5,957.4 482.9,958 484.2,958.6 485.6,959.2 487,959.7 488.4,960.3 489.8,960.8 491.2,961.4 492.6,961.9 494,962.4 495.4,962.9 496.9,963.4 498.3,963.9 499.7,964.4 501.1,964.9 502.5,965.3 504,965.8 505.4,966.2 506.8,966.7 508.3,967.1 509.7,967.5 511.2,967.9 512.6,968.4 514,968.8 515.5,969.2 516.9,969.6 518.4,969.9 519.8,970.3 521.3,970.7 522.7,971 524.2,971.4 525.7,971.7 527.1,972.1 528.6,972.4 530.1,972.8 531.5,973.1 533,973.4 534.5,973.7 535.9,974 537.4,974.3 538.9,974.6 540.3,974.9 541.8,975.2 543.3,975.5 544.8,975.7 546.2,976 547.7,976.3 549.2,976.5 550.7,976.8 552.1,977 553.6,977.3 555.1,977.5 556.6,977.8 558.1,978 559.6,978.2 561,978.4 562.5,978.6 564,978.9 565.5,979.1 567,979.3 568.5,979.5 570,979.7 571.4,979.9 572.9,980.1 574.4,980.2 575.9,980.4 577.4,980.6 578.9,980.8 580.4,980.9 581.9,981.1 583.4,981.3 584.9,981.4 586.3,981.6 587.8,981.8 589.3,981.9 590.8,982.1 592.3,982.2 593.8,982.3 595.3,982.5 596.8,982.6 598.3,982.8 599.8,982.9 601.3,983 602.8,983.1 604.3,983.3 605.8,983.4 607.3,983.5 608.8,983.6 610.3,983.7 611.7,983.9 613.2,984 614.7,984.1 616.2,984.2 617.7,984.3 619.2,984.4 620.7,984.5 622.2,984.6 623.7,984.7 625.2,984.8 626.7,984.9 628.2,985 629.7,985.1 631.2,985.1 632.7,985.2 634.2,985.3 635.7,985.4 637.2,985.5 638.7,985.6" stroke="#000" stroke-width="5.8" fill="none" stroke-linejoin="round"/>
<rect x="113" y="64.5" width="231" height="195.5" fill="#fff"/>
<path d="M120.9,87.1 H189.7" stroke="#808080" stroke-width="5.8"/>
<text x="202.5" y="96">LDA</text>
<path d="M120.9,124.6 H189.7" stroke="#808080" stroke-width="5.8" stroke-dasharray="4.9 4.21"/>
<text x="203" y="133.5">FO</text>
<path d="M120.9,162.2 H189.7" stroke="#0000ff" stroke-width="5.8"/>
<text x="204.3" y="171.1">A (12,000)</text>
<path d="M120.9,199.8 H189.7" stroke="#ff0000" stroke-width="5.8"/>
<text x="204.3" y="208.7">A (18,000)</text>
<path d="M120.9,237.3 H189.7" stroke="#edb120" stroke-width="5.8"/>
<text x="204.3" y="246.2">A (24,000)</text>
<text x="82.2" y="1000.9" text-anchor="end">0</text>
<text x="82.2" y="882.9" text-anchor="end">12</text>
<text x="82.2" y="764.9" text-anchor="end">24</text>
<text x="82.2" y="646.9" text-anchor="end">36</text>
<text x="82.2" y="528.9" text-anchor="end">48</text>
<text x="82.2" y="410.8" text-anchor="end">60</text>
<text x="82.2" y="292.8" text-anchor="end">72</text>
<text x="82.2" y="174.8" text-anchor="end">84</text>
<text x="82.2" y="56.8" text-anchor="end">96</text>
<text transform="translate(107.5,1011.9) rotate(-45)" text-anchor="end">Jan</text>
<text transform="translate(176.7,1011.9) rotate(-45)" text-anchor="end">Feb</text>
<text transform="translate(243.8,1011.9) rotate(-45)" text-anchor="end">Mar</text>
<text transform="translate(310.6,1011.9) rotate(-45)" text-anchor="end">Apr</text>
<text transform="translate(380.8,1011.9) rotate(-45)" text-anchor="end">May</text>
<text transform="translate(446.2,1011.9) rotate(-45)" text-anchor="end">Jun</text>
<text transform="translate(510.3,1011.9) rotate(-45)" text-anchor="end">Jul</text>
<text transform="translate(582.7,1011.9) rotate(-45)" text-anchor="end">Aug</text>
<text transform="translate(650.1,1011.9) rotate(-45)" text-anchor="end">Sep</text>
<text transform="translate(715.3,1011.9) rotate(-45)" text-anchor="end">Oct</text>
<text transform="translate(785,1011.9) rotate(-45)" text-anchor="end">Nov</text>
<text transform="translate(852.5,1011.9) rotate(-45)" text-anchor="end">Dec</text>
<text transform="translate(918.6,1011.9) rotate(-45)" text-anchor="end">Jan</text>
<text transform="translate(987.6,1011.9) rotate(-45)" text-anchor="end">Feb</text>
<text y="37.3"><tspan x="98.9">(</tspan><tspan x="106.2" dy="4.6" style="font-size:33.5px;stroke-width:0">×</tspan><tspan x="126.2" dy="-4.6">1</tspan><tspan x="140.2">0</tspan><tspan x="155.3" dy="-12.8" style="font-size:19px">3</tspan><tspan x="165.6" dy="12.8">)</tspan></text>
<text transform="translate(22.2,521.2) rotate(-90)" text-anchor="middle" style="font-size:27.25px">Hospital occupancy</text>
<text x="566.5" y="1092" text-anchor="middle" style="font-size:30px">Time</text>
<text x="1030.5" y="193.6" text-anchor="end" style="font-size:27.1px">£889 bn</text>
<text x="1030.5" y="749.7" text-anchor="end" style="font-size:27.1px">£868 bn</text>
<text x="1030.5" y="808.9" text-anchor="end" style="font-size:27.1px">£865 bn</text>
<text x="1030.5" y="867.6" text-anchor="end" style="font-size:27.1px">£862 bn</text>
<text x="1030.5" y="976.5" text-anchor="end" style="font-size:27.1px">£660 bn</text>
</g>
<g transform="translate(1078,0)">
<path d="M110.6,990.2 V45.9 M124.3,990.2 V45.9 M138.1,990.2 V45.9 M151.8,990.2 V45.9 M178.4,990.2 V45.9 M191.2,990.2 V45.9 M204.1,990.2 V45.9 M216.9,990.2 V45.9 M243.5,990.2 V45.9 M257.3,990.2 V45.9 M271,990.2 V45.9 M284.7,990.2 V45.9 M309.5,990.2 V45.9 M320.6,990.2 V45.9 M331.7,990.2 V45.9 M342.8,990.2 V45.9 M353.8,990.2 V45.9 M378.7,990.2 V45.9 M392.4,990.2 V45.9 M406.1,990.2 V45.9 M419.9,990.2 V45.9 M444.7,990.2 V45.9 M455.8,990.2 V45.9 M466.8,990.2 V45.9 M477.9,990.2 V45.9 M489,990.2 V45.9 M513.8,990.2 V45.9 M527.5,990.2 V45.9 M541.3,990.2 V45.9 M555,990.2 V45.9 M582.5,990.2 V45.9 M596.2,990.2 V45.9 M610,990.2 V45.9 M623.7,990.2 V45.9 M648.5,990.2 V45.9 M659.6,990.2 V45.9 M670.7,990.2 V45.9 M681.7,990.2 V45.9 M692.8,990.2 V45.9 M717.6,990.2 V45.9 M731.4,990.2 V45.9 M745.1,990.2 V45.9 M758.8,990.2 V45.9 M783.7,990.2 V45.9 M794.7,990.2 V45.9 M805.8,990.2 V45.9 M816.9,990.2 V45.9 M828,990.2 V45.9 M852.8,990.2 V45.9 M866.5,990.2 V45.9 M880.3,990.2 V45.9 M894,990.2 V45.9 M921.5,990.2 V45.9 M935.2,990.2 V45.9 M948.9,990.2 V45.9 M962.7,990.2 V45.9 M990.2,990.2 V45.9 M1003.9,990.2 V45.9 M1017.7,990.2 V45.9 M1031.4,990.2 V45.9" stroke="#c6c6c6" stroke-width="1.3" stroke-dasharray="2.5 6.61" fill="none"/>
<path d="M1038.9,966.4 H94.7 M1038.9,942.8 H94.7 M1038.9,919.2 H94.7 M1038.9,895.6 H94.7 M1038.9,848.4 H94.7 M1038.9,824.8 H94.7 M1038.9,801.2 H94.7 M1038.9,777.6 H94.7 M1038.9,730.4 H94.7 M1038.9,706.8 H94.7 M1038.9,683.2 H94.7 M1038.9,659.6 H94.7 M1038.9,612.4 H94.7 M1038.9,588.8 H94.7 M1038.9,565.2 H94.7 M1038.9,541.6 H94.7 M1038.9,494.3 H94.7 M1038.9,470.7 H94.7 M1038.9,447.1 H94.7 M1038.9,423.5 H94.7 M1038.9,376.3 H94.7 M1038.9,352.7 H94.7 M1038.9,329.1 H94.7 M1038.9,305.5 H94.7 M1038.9,258.3 H94.7 M1038.9,234.7 H94.7 M1038.9,211.1 H94.7 M1038.9,187.5 H94.7 M1038.9,140.3 H94.7 M1038.9,116.7 H94.7 M1038.9,93.1 H94.7 M1038.9,69.5 H94.7" stroke="#c6c6c6" stroke-width="1.3" stroke-dasharray="2.7 6.41" fill="none"/>
<path d="M96.8,990 V45.9 M165.5,990 V45.9 M229.8,990 V45.9 M298.5,990 V45.9 M364.9,990 V45.9 M433.6,990 V45.9 M500.1,990 V45.9 M568.8,990 V45.9 M637.4,990 V45.9 M703.9,990 V45.9 M772.6,990 V45.9 M839,990 V45.9 M907.7,990 V45.9 M976.4,990 V45.9 M94.7,872 H1038.3 M94.7,754 H1038.3 M94.7,636 H1038.3 M94.7,518 H1038.3 M94.7,399.9 H1038.3 M94.7,281.9 H1038.3 M94.7,163.9 H1038.3" stroke="#dedede" stroke-width="1.5" fill="none"/>
<rect x="94.7" y="45.9" width="943.6" height="944.1" fill="none" stroke="#404040" stroke-width="1.5"/>
<path d="M96.8,990 v-9.6 M165.5,990 v-9.6 M229.8,990 v-9.6 M298.5,990 v-9.6 M364.9,990 v-9.6 M433.6,990 v-9.6 M500.1,990 v-9.6 M568.8,990 v-9.6 M637.4,990 v-9.6 M703.9,990 v-9.6 M772.6,990 v-9.6 M839,990 v-9.6 M907.7,990 v-9.6 M976.4,990 v-9.6 M94.7,872 h9.8 M94.7,754 h9.8 M94.7,636 h9.8 M94.7,518 h9.8 M94.7,399.9 h9.8 M94.7,281.9 h9.8 M94.7,163.9 h9.8" stroke="#404040" stroke-width="1.4" fill="none"/>
<path d="M288.9,990 V46.9 M637.3,990 V46.9 M772.4,990 V46.9 M907.7,990 V46.9" stroke="#000" stroke-width="2.2" stroke-dasharray="23.2 13.24" fill="none"/>
<path d="M94.7,872 H1038.3 M94.7,813 H1038.3 M94.7,754 H1038.3" stroke="#808080" stroke-width="5.8" fill="none"/>
<path d="M638.7,985.7 640.7,985.8 642.7,985.8 644.7,985.9 646.7,985.9 648.7,986 650.7,986 652.7,986.1 654.7,986.1 656.7,986.2 658.7,986.2 660.7,986.2 662.7,986.3 664.7,986.3 666.7,986.3 668.7,986.4 670.7,986.4 672.7,986.4 674.7,986.5 676.7,986.5 678.6,986.5 680.6,986.5 682.6,986.5 684.6,986.5 686.6,986.5 688.6,986.6 690.6,986.6 692.6,986.6 694.6,986.6 696.6,986.6 698.6,986.6 700.6,986.6 702.6,986.6 704.6,986.6 706.6,986.6 708.6,986.6 710.6,986.6 712.6,986.5 714.6,986.5 716.6,986.5 718.6,986.5 720.6,986.5 722.6,986.4 724.6,986.4 726.6,986.4 728.6,986.4 730.6,986.3 732.6,986.3 734.6,986.3 736.6,986.2 738.6,986.2 740.6,986.1 742.6,986.1 744.6,986 746.6,986 748.6,985.9 750.6,985.9 752.6,985.8 754.6,985.8 756.6,985.7 758.6,985.7 760.6,985.6 762.6,985.5 764.5,985.5 766.5,985.4 768.5,985.3 770.5,985.2 772.5,985.2 774.5,985.1 776.5,985 778.5,984.9 780.5,984.8 782.5,984.7 784.5,984.7 786.5,984.6 788.5,984.5 790.5,984.4 792.5,984.3 794.5,984.2 796.5,984.1 798.5,984 800.5,983.9 802.5,983.7 804.5,983.6 806.5,983.5 808.5,983.4 810.4,983.3 812.4,983.2 814.4,983 816.4,982.9 818.4,982.8 820.4,982.7 822.4,982.5 824.4,982.4 826.4,982.3 828.4,982.1 830.4,982 832.4,981.8 834.4,981.7 836.4,981.6 838.4,981.4 840.3,981.3 842.3,981.1 844.3,981 846.3,980.8 848.3,980.7 850.3,980.5 852.3,980.3 854.3,980.2 856.3,980 858.3,979.8 860.3,979.6 862.3,979.5 864.2,979.3 866.2,979.1 868.2,978.9 870.2,978.7 872.2,978.6 874.2,978.4 876.2,978.2 878.2,978 880.2,977.8 882.1,977.6 884.1,977.4 886.1,977.2 888.1,977 890.1,976.8 892.1,976.6 894.1,976.4 896.1,976.2 898,976 900,975.7 902,975.5 904,975.3 906,975.1 908,974.9 910,974.6 911.9,974.4 913.9,974.2 915.9,973.9 917.9,973.7 919.9,973.4 921.9,973.2 923.8,973 925.8,972.7 927.8,972.5 929.8,972.2 931.8,972 933.8,971.7 935.7,971.5 937.7,971.2 939.7,970.9 941.7,970.7 943.7,970.4 945.6,970.1 947.6,969.9 949.6,969.6 951.6,969.3 953.6,969 955.5,968.8 957.5,968.5 959.5,968.2 961.5,967.9 963.4,967.6 965.4,967.3 967.4,967 969.4,966.7 971.3,966.5 973.3,966.2 975.3,965.9 977.3,965.5 979.2,965.2 981.2,964.9 983.2,964.6 985.2,964.3 987.1,964 989.1,963.7 991.1,963.4 993.1,963 995,962.7 997,962.4 999,962.1 1000.9,961.7 1002.9,961.4 1004.9,961.1 1006.8,960.7 1008.8,960.4 1010.8,960 1012.8,959.7 1014.7,959.3 1016.7,959 1018.7,958.6 1020.6,958.3 1022.6,957.9 1024.6,957.6 1026.5,957.2 1028.5,956.8 1030.4,956.5 1032.4,956.1 1034.4,955.7 1036.3,955.4 1038.3,955" stroke="#808080" stroke-width="5.8" fill="none" stroke-linejoin="round"/>
<path d="M1038.3,148.7 1037.9,147.8 1037.5,146.9 1037.1,145.9 1036.8,145 1036.5,144 1036.1,143.1 1035.8,142.1 1035.5,141.2 1035.2,140.2 1034.9,139.3 1034.6,138.3 1034.4,137.4 1034.1,136.4 1033.8,135.5 1033.5,134.5 1033.2,133.5 1032.9,132.6 1032.6,131.6 1032.3,130.7 1032,129.7 1031.7,128.8 1031.3,127.8 1031,126.9 1030.6,126 1030.3,125 1029.9,124.1 1029.5,123.2 1029.1,122.3 1028.7,121.3 1028.3,120.4 1027.8,119.6 1027.4,118.7 1026.9,117.8 1026.4,116.9 1025.8,116.1 1025.3,115.2 1024.7,114.4 1024.2,113.6 1023.5,112.8 1022.9,112 1022.2,111.3 1021.6,110.6 1020.8,109.9 1020.1,109.2 1019.3,108.6 1018.5,108 1017.6,107.5 1016.7,107.1 1015.8,106.7 1014.8,106.4 1013.9,106.2 1012.9,106.2 1011.9,106.2 1010.9,106.4 1009.9,106.6 1008.9,106.9 1008,107.3 1007.2,107.8 1006.3,108.4 1005.5,109 1004.8,109.6 1004,110.3 1003.3,111 1002.7,111.8 1002,112.5 1001.4,113.3 1000.8,114.1 1000.2,114.9 999.7,115.8 999.1,116.6 998.6,117.5 998.1,118.3 997.6,119.2 997.1,120.1 996.7,121 996.2,121.9 995.8,122.8 995.4,123.7 995,124.6 994.6,125.5 994.2,126.4 993.9,127.4 993.5,128.3 993.2,129.2 992.8,130.2 992.5,131.1 992.2,132.1 991.9,133 991.6,134 991.3,134.9 991,135.9 990.7,136.8 990.4,137.8 990.1,138.8 989.8,139.7 989.5,140.7 989.2,141.6 989,142.6 988.7,143.6 988.4,144.5 988.1,145.5 987.9,146.4 987.6,147.4 987.3,148.4 987,149.3 986.8,150.3 986.5,151.3 986.3,152.2 986,153.2 985.7,154.2 985.5,155.1 985.2,156.1 985,157.1 984.7,158 984.5,159 984.2,160 984,160.9 983.7,161.9 983.5,162.9 983.2,163.8 983,164.8 982.7,165.8 982.5,166.7 982.2,167.7 982,168.7 981.8,169.7 981.5,170.6 981.3,171.6 981.1,172.6 980.8,173.6 980.6,174.5 980.4,175.5 980.1,176.5 979.9,177.4 979.7,178.4 979.5,179.4 979.2,180.4 979,181.3 978.8,182.3 978.6,183.3 978.3,184.3 978.1,185.2 977.9,186.2 977.7,187.2 977.5,188.2 977.3,189.2 977,190.1 976.8,191.1 976.6,192.1 976.4,193.1 976.2,194 976,195 975.8,196 975.6,197 975.3,197.9 975.1,198.9 974.9,199.9 974.7,200.9 974.5,201.9 974.3,202.8 974.1,203.8 973.9,204.8 973.7,205.8 973.5,206.8 973.3,207.7 973.1,208.7 972.9,209.7 972.7,210.7 972.5,211.7 972.3,212.6 972.1,213.6 971.9,214.6 971.7,215.6 971.5,216.6 971.3,217.5 971.1,218.5 970.9,219.5 970.7,220.5 970.5,221.5 970.3,222.4 970.1,223.4 969.9,224.4 969.7,225.4 969.5,226.4 969.3,227.3 969.1,228.3 968.9,229.3 968.7,230.3 968.6,231.3 968.4,232.3 968.2,233.2 968,234.2 967.8,235.2 967.6,236.2 967.4,237.2 967.2,238.1 967,239.1 966.9,240.1 966.7,241.1 966.5,242.1 966.3,243.1 966.1,244 965.9,245 965.7,246 965.6,247 965.4,248 965.2,249 965,249.9 964.8,250.9 964.6,251.9 964.5,252.9 964.3,253.9 964.1,254.9 963.9,255.8 963.7,256.8 963.6,257.8 963.4,258.8 963.2,259.8 963,260.8 962.9,261.7 962.7,262.7 962.5,263.7 962.3,264.7 962.2,265.7 962,266.7 961.8,267.7 961.6,268.6 961.5,269.6 961.3,270.6 961.1,271.6 960.9,272.6 960.8,273.6 960.6,274.6 960.4,275.5 960.2,276.5 960.1,277.5 959.9,278.5 959.7,279.5 959.6,280.5 959.4,281.4 959.2,282.4 959,283.4 958.9,284.4 958.7,285.4 958.5,286.4 958.4,287.4 958.2,288.4 958,289.3 957.9,290.3 957.7,291.3 957.5,292.3 957.4,293.3 957.2,294.3 957,295.3 956.9,296.2 956.7,297.2 956.5,298.2 956.4,299.2 956.2,300.2 956,301.2 955.9,302.2 955.7,303.1 955.6,304.1 955.4,305.1 955.2,306.1 955.1,307.1 954.9,308.1 954.7,309.1 954.6,310.1 954.4,311 954.2,312 954.1,313 953.9,314 953.8,315 953.6,316 953.4,317 953.3,318 953.1,318.9 953,319.9 952.8,320.9 952.6,321.9 952.5,322.9 952.3,323.9 952.2,324.9 952,325.9 951.8,326.8 951.7,327.8 951.5,328.8 951.4,329.8 951.2,330.8 951.1,331.8 950.9,332.8 950.7,333.8 950.6,334.7 950.4,335.7 950.3,336.7 950.1,337.7 950,338.7 949.8,339.7 949.6,340.7 949.5,341.7 949.3,342.6 949.2,343.6 949,344.6 948.9,345.6 948.7,346.6 948.6,347.6 948.4,348.6 948.2,349.6 948.1,350.5 947.9,351.5 947.8,352.5 947.6,353.5 947.5,354.5 947.3,355.5 947.2,356.5 947,357.5 946.9,358.5 946.7,359.4 946.5,360.4 946.4,361.4 946.2,362.4 946.1,363.4 945.9,364.4 945.8,365.4 945.6,366.4 945.5,367.3 945.3,368.3 945.2,369.3 945,370.3 944.8,371.3 944.7,372.3 944.5,373.3 944.4,374.3 944.2,375.3 944.1,376.2 943.9,377.2 943.8,378.2 943.6,379.2 943.5,380.2 943.3,381.2 943.2,382.2 943,383.2 942.9,384.2 942.7,385.1 942.5,386.1 942.4,387.1 942.2,388.1 942.1,389.1 941.9,390.1 941.8,391.1 941.6,392.1 941.5,393 941.3,394 941.2,395 941,396 940.9,397 940.7,398 940.6,399 940.4,400 940.2,401 940.1,401.9 939.9,402.9 939.8,403.9 939.6,404.9 939.5,405.9 939.3,406.9 939.2,407.9 939,408.9 938.9,409.8 938.7,410.8 938.6,411.8 938.4,412.8 938.3,413.8 938.1,414.8 937.9,415.8 937.8,416.8 937.6,417.8 937.5,418.7 937.3,419.7 937.2,420.7 937,421.7 936.9,422.7 936.7,423.7 936.6,424.7 936.4,425.7 936.3,426.7 936.1,427.6 936,428.6 935.8,429.6 935.6,430.6 935.5,431.6 935.3,432.6 935.2,433.6 935,434.6 934.9,435.5 934.7,436.5 934.6,437.5 934.4,438.5 934.3,439.5 934.1,440.5 934,441.5 933.8,442.5 933.6,443.5 933.5,444.4 933.3,445.4 933.2,446.4 933,447.4 932.9,448.4 932.7,449.4 932.6,450.4 932.4,451.4 932.3,452.3 932.1,453.3 932,454.3 931.8,455.3 931.6,456.3 931.5,457.3 931.3,458.3 931.2,459.3 931,460.3 930.9,461.2 930.7,462.2 930.6,463.2 930.4,464.2 930.3,465.2 930.1,466.2 929.9,467.2 929.8,468.2 929.6,469.1 929.5,470.1 929.3,471.1 929.2,472.1 929,473.1 928.9,474.1 928.7,475.1 928.5,476.1 928.4,477.1 928.2,478 928.1,479 927.9,480 927.8,481 927.6,482 927.5,483 927.3,484 927.1,485 927,485.9 926.8,486.9 926.7,487.9 926.5,488.9 926.4,489.9 926.2,490.9 926,491.9 925.9,492.9 925.7,493.8 925.6,494.8 925.4,495.8 925.3,496.8 925.1,497.8 925,498.8 924.8,499.8 924.6,500.8 924.5,501.8 924.3,502.7 924.2,503.7 924,504.7 923.9,505.7 923.7,506.7 923.5,507.7 923.4,508.7 923.2,509.7 923.1,510.6 922.9,511.6 922.7,512.6 922.6,513.6 922.4,514.6 922.3,515.6 922.1,516.6 922,517.6 921.8,518.5 921.6,519.5 921.5,520.5 921.3,521.5 921.2,522.5 921,523.5 920.8,524.5 920.7,525.5 920.5,526.4 920.4,527.4 920.2,528.4 920,529.4 919.9,530.4 919.7,531.4 919.6,532.4 919.4,533.4 919.2,534.3 919.1,535.3 918.9,536.3 918.8,537.3 918.6,538.3 918.4,539.3 918.3,540.3 918.1,541.3 918,542.2 917.8,543.2 917.6,544.2 917.5,545.2 917.3,546.2 917.1,547.2 917,548.2 916.8,549.1 916.7,550.1 916.5,551.1 916.3,552.1 916.2,553.1 916,554.1 915.9,555.1 915.7,556.1 915.5,557 915.4,558 915.2,559 915,560 914.9,561 914.7,562 914.5,563 914.4,564 914.2,564.9 914.1,565.9 913.9,566.9 913.7,567.9 913.6,568.9 913.4,569.9 913.2,570.9 913.1,571.8 912.9,572.8 912.7,573.8 912.6,574.8 912.4,575.8 912.2,576.8 912.1,577.8 911.9,578.7 911.7,579.7 911.6,580.7 911.4,581.7 911.2,582.7 911.1,583.7 910.9,584.7 910.8,585.7 910.6,586.6 910.4,587.6 910.2,588.6 910.1,589.6 909.9,590.6 909.7,591.6 909.6,592.6 909.4,593.5 909.2,594.5 909.1,595.5 908.9,596.5 908.7,597.5 908.6,598.5 908.4,599.5 908.2,600.4 908.1,601.4 907.9,602.4 907.7,603.4 907.6,604.4 907.4,605.4 907.2,606.4 907,607.3 906.9,608.3 906.7,609.3 906.5,610.3 906.4,611.3 906.2,612.3 906,613.3 905.9,614.2 905.7,615.2 905.5,616.2 905.3,617.2 905.2,618.2 905,619.2 904.8,620.2 904.6,621.1 904.5,622.1 904.3,623.1 904.1,624.1 904,625.1 903.8,626.1 903.6,627.1 903.4,628 903.3,629 903.1,630 902.9,631 902.7,632 902.6,633 902.4,633.9 902.2,634.9 902,635.9 901.8,636.9 901.7,637.9 901.5,638.9 901.3,639.9 901.1,640.8 901,641.8 900.8,642.8 900.6,643.8 900.4,644.8 900.2,645.8 900.1,646.7 899.9,647.7 899.7,648.7 899.5,649.7 899.3,650.7 899.2,651.7 899,652.6 898.8,653.6 898.6,654.6 898.4,655.6 898.2,656.6 898,657.6 897.9,658.5 897.7,659.5 897.5,660.5 897.3,661.5 897.1,662.5 896.9,663.5 896.7,664.4 896.6,665.4 896.4,666.4 896.2,667.4 896,668.4 895.8,669.3 895.6,670.3 895.4,671.3 895.2,672.3 895,673.3 894.8,674.3 894.7,675.2 894.5,676.2 894.3,677.2 894.1,678.2 893.9,679.2 893.7,680.1 893.5,681.1 893.3,682.1 893.1,683.1 892.9,684.1 892.7,685 892.5,686 892.3,687 892.1,688 891.9,689 891.7,689.9 891.5,690.9 891.3,691.9 891.1,692.9 890.9,693.9 890.7,694.8 890.5,695.8 890.3,696.8 890.1,697.8 889.9,698.8 889.7,699.7 889.5,700.7 889.3,701.7 889,702.7 888.8,703.7 888.6,704.6 888.4,705.6 888.2,706.6 888,707.6 887.8,708.5 887.6,709.5 887.4,710.5 887.1,711.5 886.9,712.5 886.7,713.4 886.5,714.4 886.3,715.4 886.1,716.4 885.8,717.3 885.6,718.3 885.4,719.3 885.2,720.3 885,721.2 884.7,722.2 884.5,723.2 884.3,724.2 884.1,725.1 883.9,726.1 883.6,727.1 883.4,728.1 883.2,729 883,730 882.7,731 882.5,732 882.3,732.9 882,733.9 881.8,734.9 881.6,735.9 881.3,736.8 881.1,737.8 880.9,738.8 880.6,739.7 880.4,740.7 880.2,741.7 879.9,742.7 879.7,743.6 879.5,744.6 879.2,745.6 879,746.5 878.7,747.5 878.5,748.5 878.3,749.5 878,750.4 877.8,751.4 877.5,752.4 877.3,753.3 877,754.3 876.8,755.3 876.5,756.2 876.3,757.2 876,758.2 875.8,759.1 875.5,760.1 875.3,761.1 875,762.1 874.8,763 874.5,764 874.3,765 874,765.9 873.7,766.9 873.5,767.9 873.2,768.8 873,769.8 872.7,770.7 872.4,771.7 872.2,772.7 871.9,773.6 871.6,774.6 871.4,775.6 871.1,776.5 870.8,777.5 870.6,778.5 870.3,779.4 870,780.4 869.8,781.3 869.5,782.3 869.2,783.3 868.9,784.2 868.7,785.2 868.4,786.2 868.1,787.1 867.8,788.1 867.5,789 867.3,790 867,791 866.7,791.9 866.4,792.9 866.1,793.8 865.8,794.8 865.6,795.8 865.3,796.7 865,797.7 864.7,798.6 864.4,799.6 864.1,800.5 863.8,801.5 863.5,802.4 863.2,803.4 862.9,804.4 862.6,805.3 862.3,806.3 862,807.2 861.7,808.2 861.4,809.1 861.1,810.1 860.8,811 860.5,812 860.2,812.9 859.9,813.9 859.6,814.8 859.3,815.8 859,816.7 858.6,817.7 858.3,818.6 858,819.6 857.7,820.5 857.4,821.5 857.1,822.4 856.7,823.4 856.4,824.3 856.1,825.3 855.8,826.2 855.5,827.2 855.1,828.1 854.8,829.1 854.5,830 854.1,831 853.8,831.9 853.5,832.8 853.2,833.8 852.8,834.7 852.5,835.7 852.1,836.6 851.8,837.6 851.5,838.5 851.1,839.4 850.8,840.4 850.4,841.3 850.1,842.3 849.8,843.2 849.4,844.1 849.1,845.1 848.7,846 848.4,846.9 848,847.9 847.7,848.8 847.3,849.8 847,850.7 846.6,851.6 846.2,852.6 845.9,853.5 845.5,854.4 845.2,855.4 844.8,856.3 844.4,857.2 844.1,858.2 843.7,859.1 843.3,860 843,860.9 842.6,861.9 842.2,862.8 841.8,863.7 841.5,864.7 841.1,865.6 840.7,866.5 840.3,867.4 840,868.4 839.6,869.3 839.2,870.2 838.8,871.1 838.4,872 838,873 837.6,873.9 837.2,874.8 836.8,875.7 836.4,876.6 836,877.5 835.6,878.4 835.2,879.4 834.7,880.3 834.3,881.2 833.9,882.1 833.5,883 833,883.9 832.6,884.8 832.2,885.7 831.7,886.6 831.3,887.5 830.8,888.4 830.4,889.3 829.9,890.2 829.5,891.1 829,891.9 828.5,892.8 828.1,893.7 827.6,894.6 827.1,895.5 826.6,896.3 826.1,897.2 825.7,898.1 825.2,898.9 824.7,899.8 824.1,900.7 823.6,901.5 823.1,902.4 822.6,903.2 822.1,904.1 821.5,904.9 821,905.8 820.5,906.6 819.9,907.5 819.4,908.3 818.8,909.1 818.3,910 817.7,910.8 817.1,911.6 816.6,912.4 816,913.3 815.4,914.1 814.8,914.9 814.2,915.7 813.6,916.5 813,917.3 812.4,918.1 811.8,918.9 811.2,919.7 810.6,920.4 809.9,921.2 809.3,922 808.7,922.8 808,923.5 807.4,924.3 806.7,925.1 806.1,925.8 805.4,926.6 804.8,927.3 804.1,928.1 803.4,928.8 802.7,929.5 802.1,930.3 801.4,931 800.7,931.7 800,932.5 799.3,933.2 798.6,933.9 797.9,934.6 797.2,935.3 796.5,936 795.7,936.7 795,937.4 794.3,938.1 793.6,938.7 792.8,939.4 792.1,940.1 791.3,940.8 790.6,941.4 789.8,942.1 789.1,942.7 788.3,943.4 787.5,944 786.8,944.7 786,945.3 785.2,945.9 784.4,946.5 783.6,947.1 782.8,947.8 782.1,948.4 781.3,949 780.4,949.6 779.6,950.2 778.8,950.7 778,951.3 777.2,951.9 776.4,952.5 775.5,953 774.7,953.6 773.9,954.1 773,954.7 772.2,955.2 771.4,955.8 770.5,956.3 769.7,956.8 768.8,957.3 767.9,957.8 767.1,958.4 766.2,958.9 765.4,959.4 764.5,959.9 763.6,960.3 762.7,960.8 761.9,961.3 761,961.8 760.1,962.2 759.2,962.7 758.3,963.2 757.4,963.6 756.5,964.1 755.6,964.5 754.7,964.9 753.8,965.4 752.9,965.8 752,966.2 751.1,966.6 750.2,967.1 749.3,967.5 748.4,967.9 747.4,968.3 746.5,968.6 745.6,969 744.7,969.4 743.8,969.8 742.8,970.2 741.9,970.5 741,970.9 740,971.2 739.1,971.6 738.1,971.9 737.2,972.3 736.3,972.6 735.3,972.9 734.4,973.3 733.4,973.6 732.5,973.9 731.5,974.2 730.6,974.5 729.6,974.8 728.7,975.1 727.7,975.4 726.8,975.7 725.8,976 724.8,976.3 723.9,976.6 722.9,976.8 722,977.1 721,977.4 720,977.6 719.1,977.9 718.1,978.1 717.1,978.4 716.1,978.6 715.2,978.8 714.2,979.1 713.2,979.3 712.3,979.5 711.3,979.7 710.3,980 709.3,980.2 708.3,980.4 707.4,980.6 706.4,980.8 705.4,981 704.4,981.2 703.4,981.3 702.5,981.5 701.5,981.7 700.5,981.9 699.5,982.1 698.5,982.2 697.5,982.4 696.5,982.5 695.5,982.7 694.6,982.8 693.6,983 692.6,983.1 691.6,983.3 690.6,983.4 689.6,983.5 688.6,983.7 687.6,983.8 686.6,983.9 685.6,984 684.6,984.1 683.6,984.3 682.7,984.4 681.7,984.5 680.7,984.6" stroke="#808080" stroke-width="5.8" fill="none" stroke-linejoin="round" stroke-dasharray="4.9 4.21"/>
<path d="M638.7,985.7 640.2,985.7 641.7,985.8 643.2,985.8 644.7,985.8 646.2,985.8 647.7,985.8 649.2,985.8 650.7,985.8 652.2,985.8 653.7,985.8 655.2,985.8 656.7,985.9 658.2,985.9 659.7,986 661.2,986 662.7,986 664.2,986 665.7,986 667.2,986 668.7,986 670.2,986 671.7,985.9 673.2,985.8 674.7,985.7 676.2,985.5 677.7,985.4 679.2,985.3 680.6,985.1 682.1,985 683.6,984.8 685.1,984.7 686.6,984.5 688.1,984.4 689.6,984.2 691.1,984 692.6,983.8 694.1,983.6 695.5,983.4 697,983.2 698.5,983 700,982.8 701.5,982.6 703,982.4 704.4,982.2 705.9,982 707.4,981.7 708.9,981.5 710.4,981.3 711.9,981 713.3,980.8 714.8,980.5 716.3,980.2 717.8,980 719.2,979.7 720.7,979.4 722.2,979.2 723.7,978.9 725.1,978.6 726.6,978.3 728.1,978 729.5,977.7 731,977.4 732.5,977 733.9,976.7 735.4,976.4 736.9,976.1 738.3,975.7 739.8,975.4 741.2,975 742.7,974.6 744.1,974.3 745.6,973.9 747,973.5 748.5,973.1 749.9,972.7 751.4,972.3 752.8,971.9 754.3,971.5 755.7,971.1 757.1,970.7 758.6,970.3 760,969.9 761.5,969.4 762.9,969 764.3,968.6 765.8,968.1 767.2,967.7 768.6,967.2 770.1,966.8 771.5,966.3 772.9,965.9 774.3,965.4 775.8,964.9 777.2,964.4 778.6,963.9 780,963.4 781.4,962.9 782.8,962.4 784.2,961.9 785.7,961.4 787.1,960.9 788.5,960.4 789.9,959.9 791.3,959.4 792.7,958.9 794.1,958.3 795.5,957.8 796.9,957.3 798.3,956.8 799.7,956.2 801.1,955.7 802.5,955.2 803.9,954.6 805.3,954.1 806.7,953.6 808.1,953 809.5,952.5 810.9,952 812.3,951.5 813.7,950.9 815.2,950.4 816.6,949.9 818,949.3 819.4,948.8 820.8,948.3 822.2,947.8 823.6,947.3 825,946.7 826.4,946.2 827.8,945.7 829.2,945.1 830.6,944.6 832,944.1 833.4,943.5 834.8,943 836.2,942.4 837.6,941.8 838.9,941.3 840.3,940.6 841.7,940 843.1,939.4 844.4,938.8 845.8,938.1 847.1,937.5 848.5,936.8 849.8,936.2 851.1,935.5 852.5,934.8 853.8,934.1 855.1,933.4 856.5,932.7 857.8,932 859.1,931.2 860.4,930.5 861.6,929.7 862.9,928.9 864.2,928.1 865.5,927.3 866.7,926.5 868,925.6 869.2,924.8 870.4,923.9 871.7,923.1 872.9,922.2 874.1,921.3 875.3,920.4 876.5,919.5 877.7,918.6 878.9,917.7 880.1,916.8 881.2,915.9 882.4,914.9 883.6,914 884.8,913.1 885.9,912.2 887.1,911.2 888.3,910.3 889.4,909.3 890.6,908.4 891.8,907.4 892.9,906.5 894.1,905.5 895.2,904.5 896.4,903.6 897.5,902.6 898.7,901.7 899.8,900.7 901,899.7 902.1,898.8 903.3,897.8 904.4,896.9 905.6,895.9 906.7,894.9 907.9,894 909.1,893 910.2,892.1 911.4,891.1 912.5,890.2 913.7,889.3 914.9,888.4 916.2,887.5 917.4,886.7 918.6,885.8 919.9,885 921.2,884.2 922.5,883.5 923.8,882.8 925.2,882.2 926.6,881.6 928,881.1 929.4,880.6 930.8,880.2 932.3,879.8 933.7,879.5 935.2,879.2 936.7,878.9 938.2,878.7 939.6,878.4 941.1,878.2 942.6,878 944.1,877.9 945.6,877.7 947.1,877.6 948.6,877.5 950.1,877.4 951.6,877.3 953.1,877.2 954.6,877.1 956.1,877 957.6,877 959.1,877 960.6,877 962.1,876.9 963.6,876.9 965.1,876.9 966.6,876.9 968.1,876.9 969.6,876.9 971.1,876.9 972.6,876.8 974.1,876.8 975.6,876.8 977.1,876.8 978.6,876.8 980.1,876.7 981.6,876.7 983.1,876.7 984.6,876.6 986.1,876.6 987.6,876.6 989.1,876.5 990.6,876.5 992.1,876.4 993.5,876.4 995,876.3 996.5,876.2 998,876.1 999.5,876 1001,875.8 1002.5,875.7 1004,875.5 1005.5,875.3 1007,875.1 1008.5,875 1010,874.8 1011.5,874.6 1012.9,874.4 1014.4,874.3 1015.9,874.1 1017.4,873.9 1018.9,873.8 1020.4,873.6 1021.9,873.4 1023.4,873.2 1024.9,873 1026.3,872.9 1027.8,872.7 1029.3,872.6 1030.8,872.4 1032.3,872.3 1033.8,872.2 1035.3,872.1 1036.8,872 1038.3,871.9" stroke="#0000ff" stroke-width="5.8" fill="none" stroke-linejoin="round"/>
<path d="M662.7,986.5 664.2,986.5 665.7,986.5 667.2,986.5 668.7,986.6 670.2,986.5 671.7,986.5 673.2,986.4 674.7,986.3 676.2,986.1 677.7,986 679.2,985.9 680.7,985.7 682.2,985.6 683.7,985.5 685.2,985.3 686.6,985.2 688.1,985 689.6,984.9 691.1,984.7 692.6,984.5 694.1,984.3 695.6,984.1 697.1,983.9 698.6,983.7 700,983.5 701.5,983.3 703,983.1 704.5,982.9 706,982.7 707.5,982.5 709,982.3 710.4,982 711.9,981.8 713.4,981.5 714.9,981.3 716.4,981.1 717.8,980.8 719.3,980.6 720.8,980.3 722.3,980.1 723.8,979.8 725.2,979.5 726.7,979.3 728.2,979 729.7,978.8 731.1,978.5 732.6,978.2 734.1,978 735.6,977.7 737,977.4 738.5,977.1 740,976.9 741.5,976.6 743,976.3 744.4,976.1 745.9,975.8 747.4,975.5 748.8,975.2 750.3,974.9 751.8,974.7 753.3,974.3 754.7,974 756.2,973.7 757.7,973.4 759.1,973 760.6,972.7 762,972.4 763.5,972 765,971.6 766.4,971.3 767.9,970.9 769.3,970.5 770.8,970.1 772.2,969.7 773.6,969.3 775.1,968.9 776.5,968.4 778,968 779.4,967.5 780.8,967 782.2,966.5 783.6,966 785,965.5 786.4,965 787.8,964.4 789.2,963.9 790.6,963.3 792,962.7 793.4,962.1 794.7,961.5 796.1,960.9 797.5,960.3 798.8,959.7 800.2,959 801.5,958.4 802.9,957.7 804.2,957.1 805.6,956.4 807,955.8 808.3,955.1 809.7,954.5 811,953.8 812.4,953.1 813.7,952.5 815.1,951.8 816.4,951.2 817.7,950.5 819.1,949.8 820.4,949.1 821.7,948.4 823.1,947.7 824.4,947 825.7,946.3 827,945.6 828.3,944.8 829.6,944.1 830.9,943.3 832.2,942.6 833.5,941.8 834.8,941 836.1,940.2 837.3,939.4 838.6,938.6 839.8,937.8 841.1,936.9 842.3,936.1 843.5,935.2 844.7,934.3 845.9,933.4 847.1,932.5 848.3,931.5 849.4,930.6 850.6,929.6 851.7,928.7 852.9,927.7 854,926.7 855.1,925.7 856.2,924.7 857.3,923.6 858.4,922.6 859.5,921.5 860.5,920.5 861.6,919.4 862.6,918.3 863.6,917.2 864.7,916.1 865.7,915 866.7,913.9 867.7,912.8 868.7,911.7 869.6,910.5 870.6,909.4 871.6,908.2 872.6,907.1 873.5,906 874.5,904.8 875.4,903.6 876.4,902.5 877.3,901.3 878.2,900.1 879.2,898.9 880.1,897.8 881,896.6 881.9,895.4 882.8,894.2 883.7,893 884.6,891.8 885.5,890.6 886.4,889.3 887.2,888.1 888.1,886.9 889,885.7 889.8,884.5 890.7,883.2 891.6,882 892.4,880.7 893.2,879.5 894.1,878.3 894.9,877 895.8,875.8 896.7,874.6 897.6,873.4 898.5,872.2 899.3,870.9 900.2,869.7 901.1,868.5 901.9,867.3 902.8,866 903.6,864.8 904.5,863.6 905.3,862.3 906.1,861.1 906.9,859.8 907.8,858.5 908.6,857.3 909.4,856 910.2,854.8 911,853.5 911.8,852.2 912.6,851 913.5,849.7 914.3,848.5 915.1,847.2 916,846 916.8,844.8 917.8,843.6 918.7,842.4 919.7,841.3 920.8,840.3 921.9,839.3 923.1,838.3 924.3,837.4 925.6,836.6 926.9,835.9 928.2,835.2 929.6,834.6 931,834.1 932.4,833.6 933.8,833.1 935.2,832.6 936.7,832.2 938.2,831.9 939.6,831.6 941.1,831.4 942.6,831.2 944.1,831.1 945.6,830.9 947.1,830.8 948.6,830.6 950.1,830.5 951.6,830.4 953.1,830.2 954.5,830.1 956,829.9 957.5,829.7 959,829.6 960.5,829.4 962,829.2 963.5,829 965,828.8 966.5,828.6 967.9,828.3 969.4,828.1 970.9,827.9 972.4,827.6 973.9,827.3 975.3,827.1 976.8,826.8 978.3,826.5 979.8,826.3 981.2,826 982.7,825.7 984.2,825.4 985.6,825.1 987.1,824.8 988.6,824.5 990,824.2 991.5,823.8 993,823.5 994.4,823.2 995.9,822.8 997.4,822.5 998.8,822.1 1000.3,821.8 1001.7,821.4 1003.2,821 1004.6,820.7 1006.1,820.4 1007.6,820 1009,819.7 1010.5,819.4 1012,819 1013.4,818.7 1014.9,818.4 1016.3,818 1017.8,817.7 1019.3,817.4 1020.7,817 1022.2,816.7 1023.7,816.3 1025.1,816 1026.6,815.7 1028,815.3 1029.5,815 1031,814.7 1032.4,814.3 1033.9,814 1035.4,813.7 1036.8,813.4 1038.3,813.1" stroke="#ff0000" stroke-width="5.8" fill="none" stroke-linejoin="round"/>
<path d="M638.7,985.7 640.2,985.8 641.7,985.9 643.2,985.9 644.7,986 646.2,986 647.7,986.1 649.2,986.1 650.7,986.1 652.2,986.2 653.7,986.2 655.2,986.2 656.7,986.2 658.2,986.3 659.7,986.3 661.2,986.3 662.7,986.4 664.2,986.4 665.7,986.4 667.2,986.4 668.7,986.4 670.2,986.4 671.7,986.2 673.2,986.1 674.7,986 676.2,985.9 677.7,985.7 679.2,985.6 680.7,985.4 682.2,985.2 683.7,985.1 685.2,984.9 686.7,984.7 688.2,984.6 689.7,984.4 691.2,984.2 692.6,984 694.1,983.8 695.6,983.6 697.1,983.4 698.6,983.1 700.1,982.9 701.6,982.7 703,982.5 704.5,982.3 706,982.1 707.5,981.8 709,981.6 710.5,981.4 712,981.1 713.4,980.9 714.9,980.7 716.4,980.4 717.9,980.2 719.4,979.9 720.9,979.7 722.3,979.4 723.8,979.1 725.3,978.9 726.8,978.6 728.3,978.4 729.7,978.1 731.2,977.8 732.7,977.6 734.2,977.3 735.6,977 737.1,976.7 738.6,976.4 740,976.1 741.5,975.8 743,975.4 744.4,975.1 745.9,974.8 747.4,974.4 748.8,974.1 750.3,973.7 751.8,973.4 753.2,973 754.7,972.6 756.1,972.2 757.6,971.8 759,971.4 760.5,971 761.9,970.6 763.3,970.2 764.8,969.8 766.2,969.3 767.7,968.9 769.1,968.5 770.5,968 772,967.5 773.4,967.1 774.8,966.6 776.2,966 777.6,965.5 779,965 780.4,964.5 781.8,963.9 783.2,963.4 784.6,962.8 786,962.2 787.4,961.6 788.8,961 790.1,960.4 791.5,959.8 792.9,959.2 794.3,958.6 795.6,958 797,957.3 798.3,956.7 799.7,956 801,955.3 802.4,954.7 803.7,954 805,953.3 806.4,952.6 807.7,951.9 809,951.1 810.3,950.4 811.6,949.6 812.9,948.9 814.2,948.1 815.5,947.4 816.8,946.6 818,945.8 819.3,945 820.6,944.2 821.8,943.4 823.1,942.5 824.3,941.7 825.6,940.8 826.8,940 828.1,939.1 829.3,938.3 830.5,937.4 831.7,936.5 832.9,935.6 834.1,934.7 835.3,933.8 836.5,932.9 837.7,931.9 838.9,931 840,930.1 841.2,929.1 842.3,928.1 843.5,927.1 844.6,926.2 845.7,925.2 846.8,924.2 848,923.2 849.1,922.2 850.2,921.1 851.3,920.1 852.4,919.1 853.5,918 854.5,917 855.6,915.9 856.7,914.9 857.7,913.8 858.8,912.7 859.8,911.6 860.8,910.6 861.9,909.5 862.9,908.4 863.9,907.2 864.9,906.1 865.9,905 866.9,903.9 867.9,902.7 868.9,901.6 869.8,900.5 870.8,899.3 871.7,898.1 872.7,897 873.6,895.8 874.6,894.6 875.5,893.5 876.5,892.3 877.4,891.1 878.3,889.9 879.2,888.7 880.1,887.5 881,886.3 882,885.2 882.9,884 883.8,882.8 884.7,881.6 885.6,880.4 886.5,879.2 887.4,877.9 888.2,876.7 889.1,875.5 890,874.3 890.8,873 891.6,871.8 892.5,870.5 893.3,869.3 894.1,868 894.9,866.7 895.7,865.5 896.6,864.2 897.4,863 898.2,861.7 899,860.4 899.8,859.1 900.6,857.9 901.3,856.6 902,855.2 902.7,853.9 903.4,852.6 904.1,851.2 904.8,849.9 905.4,848.5 906.1,847.2 906.8,845.9 907.5,844.5 908.2,843.2 908.9,841.9 909.5,840.5 910.2,839.2 910.9,837.8 911.6,836.5 912.3,835.2 913.1,833.9 913.9,832.6 914.6,831.3 915.5,830.1 916.3,828.8 917.2,827.6 918,826.4 918.9,825.2 919.9,824 920.8,822.8 921.8,821.7 922.9,820.6 923.9,819.6 925.1,818.6 926.2,817.6 927.4,816.7 928.6,815.7 929.8,814.9 931,814 932.3,813.2 933.6,812.4 934.9,811.7 936.2,810.9 937.5,810.2 938.8,809.5 940.1,808.8 941.5,808.1 942.8,807.4 944.1,806.7 945.5,806 946.8,805.4 948.2,804.7 949.5,804 950.9,803.4 952.2,802.7 953.6,802.1 954.9,801.5 956.3,800.8 957.6,800.1 959,799.4 960.3,798.7 961.6,798 962.9,797.2 964.2,796.5 965.5,795.7 966.8,794.9 968.1,794.2 969.3,793.4 970.6,792.6 971.9,791.8 973.2,791 974.4,790.2 975.7,789.4 977,788.6 978.2,787.8 979.5,787 980.8,786.1 982,785.3 983.3,784.5 984.5,783.7 985.8,782.9 987.1,782 988.3,781.2 989.6,780.4 990.8,779.6 992.1,778.8 993.4,778 994.6,777.1 995.9,776.4 997.2,775.6 998.5,774.8 999.8,774 1001,773.2 1002.3,772.4 1003.6,771.7 1004.9,770.9 1006.1,770.1 1007.4,769.3 1008.7,768.5 1010,767.7 1011.3,766.9 1012.5,766.1 1013.9,765.4 1015.2,764.7 1016.5,764 1017.8,763.3 1019.1,762.6 1020.5,761.9 1021.8,761.2 1023.2,760.5 1024.5,759.8 1025.9,759.2 1027.2,758.6 1028.6,757.9 1030,757.3 1031.3,756.7 1032.7,756.1 1034.1,755.5 1035.5,755 1036.9,754.4 1038.3,753.9" stroke="#edb120" stroke-width="5.8" fill="none" stroke-linejoin="round"/>
<path d="M94.7,989.9 96.2,989.9 97.7,989.9 99.2,989.9 100.7,989.9 102.2,989.9 103.7,989.9 105.2,989.9 106.7,989.9 108.2,989.9 109.7,989.9 111.2,989.9 112.7,989.9 114.2,989.9 115.7,989.9 117.2,989.9 118.7,989.9 120.2,989.9 121.7,989.9 123.2,989.9 124.7,989.9 126.2,989.9 127.7,989.9 129.2,989.9 130.7,989.9 132.2,989.9 133.7,989.9 135.2,989.9 136.7,989.9 138.2,989.9 139.7,989.9 141.2,989.9 142.7,989.9 144.2,989.9 145.7,989.9 147.2,989.9 148.7,989.9 150.2,989.9 151.7,989.9 153.2,989.9 154.7,989.9 156.2,989.9 157.7,989.9 159.2,989.9 160.7,989.9 162.2,989.9 163.7,989.9 165.2,989.9 166.7,989.9 168.2,989.9 169.7,989.9 171.2,989.9 172.7,989.9 174.2,989.9 175.7,989.9 177.2,989.9 178.7,989.9 180.2,989.9 181.7,989.9 183.2,989.9 184.7,989.9 186.2,989.9 187.7,989.9 189.2,989.9 190.7,989.9 192.2,989.8 193.7,989.8 195.2,989.8 196.7,989.8 198.2,989.8 199.7,989.8 201.2,989.8 202.7,989.8 204.2,989.8 205.7,989.8 207.2,989.7 208.7,989.7 210.2,989.7 211.7,989.7 213.2,989.6 214.7,989.6 216.2,989.6 217.7,989.5 219.2,989.5 220.7,989.4 222.2,989.4 223.7,989.3 225.2,989.3 226.7,989.2 228.2,989.1 229.7,989 231.2,988.9 232.7,988.8 234.2,988.6 235.7,988.5 237.2,988.3 238.7,988.1 240.2,987.9 241.6,987.6 243.1,987.4 244.6,987.1 246,986.7 247.5,986.3 248.9,985.9 250.4,985.5 251.8,985 253.2,984.4 254.5,983.8 255.9,983.1 257.2,982.4 258.5,981.7 259.7,980.8 261,979.9 262.1,979 263.3,978 264.4,977 265.4,975.9 266.4,974.8 267.4,973.7 268.3,972.5 269.2,971.3 270,970 270.8,968.8 271.6,967.5 272.4,966.2 273.1,964.9 273.8,963.5 274.4,962.2 275.1,960.8 275.7,959.5 276.3,958.1 276.8,956.7 277.4,955.3 277.9,953.9 278.4,952.5 278.9,951.1 279.4,949.7 279.9,948.2 280.3,946.8 280.8,945.4 281.2,943.9 281.6,942.5 282,941 282.4,939.6 282.8,938.1 283.2,936.7 283.6,935.2 283.9,933.8 284.3,932.3 284.6,930.9 285,929.4 285.3,927.9 285.6,926.5 285.9,925 286.2,923.5 286.5,922.1 286.8,920.6 287.1,919.1 287.4,917.7 287.7,916.2 288,914.7 288.3,913.2 288.5,911.8 288.8,910.3 289.1,908.8 289.3,907.3 289.6,905.8 289.8,904.4 290.1,902.9 290.3,901.4 290.6,899.9 290.8,898.4 291.1,897 291.3,895.5 291.6,894 291.8,892.5 292,891 292.2,889.6 292.5,888.1 292.7,886.6 292.9,885.1 293.2,883.6 293.4,882.1 293.6,880.7 293.8,879.2 294,877.7 294.3,876.2 294.5,874.7 294.7,873.2 294.9,871.8 295.2,870.3 295.4,868.8 295.6,867.3 295.8,865.8 296,864.3 296.3,862.9 296.5,861.4 296.7,859.9 296.9,858.4 297.1,856.9 297.4,855.4 297.6,854 297.8,852.5 298.1,851 298.3,849.5 298.5,848 298.8,846.5 299,845.1 299.3,843.6 299.5,842.1 299.8,840.6 300,839.1 300.3,837.7 300.5,836.2 300.8,834.7 301.1,833.2 301.4,831.8 301.7,830.3 301.9,828.8 302.2,827.4 302.6,825.9 302.9,824.4 303.2,823 303.5,821.5 303.9,820 304.2,818.6 304.6,817.1 305,815.7 305.4,814.2 305.8,812.8 306.2,811.3 306.7,809.9 307.1,808.5 307.6,807.1 308.1,805.6 308.6,804.2 309.2,802.8 309.7,801.4 310.3,800.1 310.9,798.7 311.6,797.3 312.2,796 313,794.7 313.7,793.4 314.5,792.1 315.3,790.8 316.2,789.6 317.1,788.5 318.2,787.4 319.3,786.3 320.4,785.4 321.7,784.7 323.1,784.1 324.6,783.8 326.1,783.8 327.6,784.1 329,784.6 330.3,785.3 331.5,786.2 332.7,787.1 333.8,788.1 334.9,789.2 335.9,790.3 336.8,791.4 337.8,792.6 338.7,793.8 339.6,795 340.4,796.2 341.3,797.5 342.1,798.7 342.9,800 343.7,801.3 344.5,802.5 345.3,803.8 346.1,805.1 346.8,806.4 347.6,807.7 348.3,809 349.1,810.3 349.8,811.6 350.5,812.9 351.3,814.2 352,815.5 352.7,816.9 353.4,818.2 354.2,819.5 354.9,820.8 355.6,822.1 356.3,823.4 357,824.8 357.7,826.1 358.4,827.4 359.1,828.7 359.8,830.1 360.6,831.4 361.3,832.7 362,834 362.7,835.3 363.4,836.7 364.1,838 364.9,839.3 365.6,840.6 366.3,841.9 367,843.2 367.8,844.5 368.5,845.9 369.2,847.2 370,848.5 370.7,849.8 371.4,851.1 372.2,852.4 372.9,853.7 373.7,855 374.5,856.3 375.2,857.6 376,858.8 376.8,860.1 377.5,861.4 378.3,862.7 379.1,864 379.9,865.3 380.7,866.5 381.5,867.8 382.3,869.1 383.1,870.3 383.9,871.6 384.7,872.8 385.5,874.1 386.4,875.3 387.2,876.6 388.1,877.8 388.9,879.1 389.8,880.3 390.6,881.5 391.5,882.8 392.3,884 393.2,885.2 394.1,886.4 395,887.6 395.9,888.8 396.8,890 397.7,891.2 398.6,892.4 399.5,893.6 400.5,894.8 401.4,895.9 402.4,897.1 403.3,898.3 404.3,899.4 405.2,900.6 406.2,901.7 407.2,902.9 408.2,904 409.2,905.1 410.2,906.2 411.2,907.3 412.2,908.4 413.2,909.5 414.2,910.6 415.3,911.7 416.3,912.8 417.4,913.9 418.4,914.9 419.5,916 420.6,917 421.6,918.1 422.7,919.1 423.8,920.1 424.9,921.2 426,922.2 427.2,923.2 428.3,924.2 429.4,925.1 430.6,926.1 431.7,927.1 432.9,928 434,929 435.2,929.9 436.4,930.9 437.5,931.8 438.7,932.7 439.9,933.6 441.1,934.5 442.4,935.4 443.6,936.2 444.8,937.1 446,938 447.3,938.8 448.5,939.7 449.8,940.5 451,941.3 452.3,942.1 453.6,942.9 454.8,943.7 456.1,944.5 457.4,945.2 458.7,946 460,946.8 461.3,947.5 462.6,948.2 463.9,949 465.2,949.7 466.6,950.4 467.9,951.1 469.2,951.7 470.6,952.4 471.9,953.1 473.3,953.7 474.6,954.4 476,955 477.4,955.6 478.7,956.2 480.1,956.8 481.5,957.4 482.9,958 484.2,958.6 485.6,959.2 487,959.7 488.4,960.3 489.8,960.8 491.2,961.4 492.6,961.9 494,962.4 495.4,962.9 496.9,963.4 498.3,963.9 499.7,964.4 501.1,964.9 502.5,965.3 504,965.8 505.4,966.2 506.8,966.7 508.3,967.1 509.7,967.5 511.2,967.9 512.6,968.4 514,968.8 515.5,969.2 516.9,969.6 518.4,969.9 519.8,970.3 521.3,970.7 522.7,971 524.2,971.4 525.7,971.7 527.1,972.1 528.6,972.4 530.1,972.8 531.5,973.1 533,973.4 534.5,973.7 535.9,974 537.4,974.3 538.9,974.6 540.3,974.9 541.8,975.2 543.3,975.5 544.8,975.7 546.2,976 547.7,976.3 549.2,976.5 550.7,976.8 552.1,977 553.6,977.3 555.1,977.5 556.6,977.8 558.1,978 559.6,978.2 561,978.4 562.5,978.6 564,978.9 565.5,979.1 567,979.3 568.5,979.5 570,979.7 571.4,979.9 572.9,980.1 574.4,980.2 575.9,980.4 577.4,980.6 578.9,980.8 580.4,980.9 581.9,981.1 583.4,981.3 584.9,981.4 586.3,981.6 587.8,981.8 589.3,981.9 590.8,982.1 592.3,982.2 593.8,982.3 595.3,982.5 596.8,982.6 598.3,982.8 599.8,982.9 601.3,983 602.8,983.1 604.3,983.3 605.8,983.4 607.3,983.5 608.8,983.6 610.3,983.7 611.7,983.9 613.2,984 614.7,984.1 616.2,984.2 617.7,984.3 619.2,984.4 620.7,984.5 622.2,984.6 623.7,984.7 625.2,984.8 626.7,984.9 628.2,985 629.7,985.1 631.2,985.1 632.7,985.2 634.2,985.3 635.7,985.4 637.2,985.5 638.7,985.6" stroke="#000" stroke-width="5.8" fill="none" stroke-linejoin="round"/>
<rect x="113" y="64.5" width="231" height="195.5" fill="#fff"/>
<path d="M120.9,87.1 H189.7" stroke="#808080" stroke-width="5.8"/>
<text x="202.5" y="96">LDB</text>
<path d="M120.9,124.6 H189.7" stroke="#808080" stroke-width="5.8" stroke-dasharray="4.9 4.21"/>
<text x="203" y="133.5">FO</text>
<path d="M120.9,162.2 H189.7" stroke="#0000ff" stroke-width="5.8"/>
<text x="202.6" y="171.1">B (12,000)</text>
<path d="M120.9,199.8 H189.7" stroke="#ff0000" stroke-width="5.8"/>
<text x="202.6" y="208.7">B (18,000)</text>
<path d="M120.9,237.3 H189.7" stroke="#edb120" stroke-width="5.8"/>
<text x="202.6" y="246.2">B (24,000)</text>
<text x="82.2" y="1000.9" text-anchor="end">0</text>
<text x="82.2" y="882.9" text-anchor="end">12</text>
<text x="82.2" y="764.9" text-anchor="end">24</text>
<text x="82.2" y="646.9" text-anchor="end">36</text>
<text x="82.2" y="528.9" text-anchor="end">48</text>
<text x="82.2" y="410.8" text-anchor="end">60</text>
<text x="82.2" y="292.8" text-anchor="end">72</text>
<text x="82.2" y="174.8" text-anchor="end">84</text>
<text x="82.2" y="56.8" text-anchor="end">96</text>
<text transform="translate(107.5,1011.9) rotate(-45)" text-anchor="end">Jan</text>
<text transform="translate(176.7,1011.9) rotate(-45)" text-anchor="end">Feb</text>
<text transform="translate(243.8,1011.9) rotate(-45)" text-anchor="end">Mar</text>
<text transform="translate(310.6,1011.9) rotate(-45)" text-anchor="end">Apr</text>
<text transform="translate(380.8,1011.9) rotate(-45)" text-anchor="end">May</text>
<text transform="translate(446.2,1011.9) rotate(-45)" text-anchor="end">Jun</text>
<text transform="translate(510.3,1011.9) rotate(-45)" text-anchor="end">Jul</text>
<text transform="translate(582.7,1011.9) rotate(-45)" text-anchor="end">Aug</text>
<text transform="translate(650.1,1011.9) rotate(-45)" text-anchor="end">Sep</text>
<text transform="translate(715.3,1011.9) rotate(-45)" text-anchor="end">Oct</text>
<text transform="translate(785,1011.9) rotate(-45)" text-anchor="end">Nov</text>
<text transform="translate(852.5,1011.9) rotate(-45)" text-anchor="end">Dec</text>
<text transform="translate(918.6,1011.9) rotate(-45)" text-anchor="end">Jan</text>
<text transform="translate(987.6,1011.9) rotate(-45)" text-anchor="end">Feb</text>
<text y="37.3"><tspan x="98.9">(</tspan><tspan x="106.2" dy="4.6" style="font-size:33.5px;stroke-width:0">×</tspan><tspan x="126.2" dy="-4.6">1</tspan><tspan x="140.2">0</tspan><tspan x="155.3" dy="-12.8" style="font-size:19px">3</tspan><tspan x="165.6" dy="12.8">)</tspan></text>
<text transform="translate(22.2,521.2) rotate(-90)" text-anchor="middle" style="font-size:27.25px">Hospital occupancy</text>
<text x="566.5" y="1092" text-anchor="middle" style="font-size:30px">Time</text>
<text x="1030.5" y="193.6" text-anchor="end" style="font-size:27.1px">£889 bn</text>
<text x="1030.5" y="749.7" text-anchor="end" style="font-size:27.1px">£863 bn</text>
<text x="1030.5" y="808.9" text-anchor="end" style="font-size:27.1px">£854 bn</text>
<text x="1030.5" y="867.6" text-anchor="end" style="font-size:27.1px">£831 bn</text>
<text x="1030.5" y="956.5" text-anchor="end" style="font-size:27.1px">£670 bn</text>
</g>
<text class="pl" x="-1.7" y="24.8" style="font-size:32.3px;font-weight:bold">a</text>
<text class="pl" x="1078.4" y="24.7" style="font-size:32.3px;font-weight:bold">b</text>
</svg></body></html>
